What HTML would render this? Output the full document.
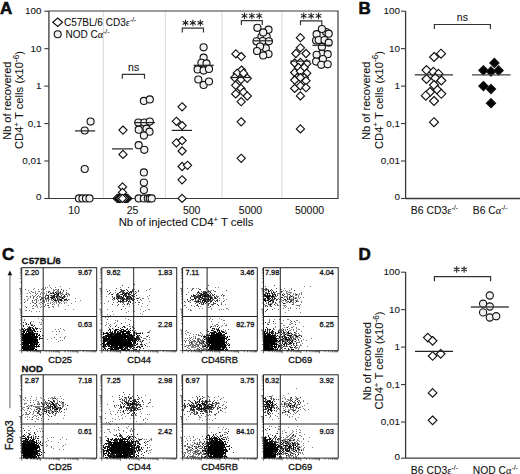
<!DOCTYPE html>
<html><head><meta charset="utf-8"><style>
html,body{margin:0;padding:0;background:#fff;}
#wrap{position:relative;width:520px;height:474px;overflow:hidden;background:#fff;}
svg{position:absolute;left:0;top:0;}
.h text{stroke:#111;stroke-width:0.3px;}
.m text{stroke:#111;stroke-width:0.08px;}
text{fill:#111;font-family:"Liberation Sans",sans-serif;}
</style></head><body><div id="wrap">
<svg width="520" height="474" viewBox="0 0 520 474" font-family="Liberation Sans, sans-serif">
<g shape-rendering="crispEdges"><path fill="rgb(178,178,178)" d=""/><path fill="rgb(128,128,128)" d="M49 285h1v1h-1zM60 286h1v1h-1zM304 286h1v1h-1zM310 286h1v1h-1zM45 287h1v1h-1zM47 287h1v1h-1zM50 287h1v1h-1zM55 287h1v1h-1zM120 287h1v1h-1zM215 287h1v1h-1zM218 287h1v1h-1zM34 288h1v1h-1zM42 288h1v1h-1zM45 288h1v1h-1zM51 288h1v1h-1zM69 288h1v1h-1zM133 288h1v1h-1zM150 288h1v1h-1zM187 288h1v1h-1zM192 288h1v1h-1zM196 288h1v1h-1zM198 288h1v1h-1zM265 288h1v1h-1zM284 288h1v1h-1zM291 288h1v1h-1zM25 289h1v1h-1zM33 289h1v1h-1zM38 289h1v1h-1zM41 289h1v1h-1zM43 289h2v1h-2zM53 289h1v1h-1zM55 289h2v1h-2zM106 289h1v1h-1zM134 289h1v1h-1zM149 289h1v1h-1zM268 289h1v1h-1zM280 289h2v1h-2zM291 289h1v1h-1zM28 290h1v1h-1zM53 290h2v1h-2zM57 290h2v1h-2zM66 290h1v1h-1zM146 290h1v1h-1zM211 290h1v1h-1zM213 290h1v1h-1zM283 290h1v1h-1zM285 290h1v1h-1zM289 290h1v1h-1zM35 291h1v1h-1zM38 291h2v1h-2zM46 291h1v1h-1zM48 291h1v1h-1zM53 291h1v1h-1zM56 291h3v1h-3zM63 291h1v1h-1zM133 291h1v1h-1zM214 291h1v1h-1zM264 291h1v1h-1zM273 291h1v1h-1zM282 291h1v1h-1zM286 291h2v1h-2zM29 292h1v1h-1zM32 292h2v1h-2zM35 292h1v1h-1zM41 292h1v1h-1zM50 292h1v1h-1zM52 292h1v1h-1zM56 292h4v1h-4zM62 292h1v1h-1zM66 292h1v1h-1zM115 292h1v1h-1zM188 292h1v1h-1zM199 292h1v1h-1zM202 292h1v1h-1zM275 292h1v1h-1zM281 292h1v1h-1zM286 292h1v1h-1zM288 292h4v1h-4zM301 292h1v1h-1zM27 293h1v1h-1zM30 293h1v1h-1zM35 293h1v1h-1zM37 293h1v1h-1zM40 293h1v1h-1zM42 293h1v1h-1zM44 293h1v1h-1zM46 293h1v1h-1zM52 293h1v1h-1zM54 293h1v1h-1zM57 293h1v1h-1zM59 293h4v1h-4zM66 293h3v1h-3zM113 293h1v1h-1zM277 293h3v1h-3zM283 293h1v1h-1zM286 293h2v1h-2zM290 293h1v1h-1zM293 293h1v1h-1zM295 293h1v1h-1zM299 293h1v1h-1zM301 293h1v1h-1zM36 294h1v1h-1zM40 294h1v1h-1zM46 294h1v1h-1zM49 294h1v1h-1zM56 294h1v1h-1zM60 294h1v1h-1zM62 294h2v1h-2zM65 294h1v1h-1zM68 294h2v1h-2zM108 294h1v1h-1zM277 294h1v1h-1zM280 294h1v1h-1zM287 294h2v1h-2zM293 294h1v1h-1zM295 294h1v1h-1zM297 294h1v1h-1zM299 294h1v1h-1zM301 294h1v1h-1zM32 295h1v1h-1zM35 295h1v1h-1zM38 295h1v1h-1zM45 295h1v1h-1zM50 295h1v1h-1zM52 295h1v1h-1zM56 295h1v1h-1zM67 295h1v1h-1zM69 295h1v1h-1zM128 295h1v1h-1zM149 295h1v1h-1zM216 295h1v1h-1zM224 295h1v1h-1zM282 295h1v1h-1zM287 295h1v1h-1zM292 295h1v1h-1zM295 295h2v1h-2zM298 295h1v1h-1zM26 296h2v1h-2zM33 296h2v1h-2zM39 296h2v1h-2zM51 296h1v1h-1zM55 296h1v1h-1zM58 296h1v1h-1zM60 296h2v1h-2zM65 296h1v1h-1zM67 296h1v1h-1zM106 296h1v1h-1zM147 296h1v1h-1zM217 296h2v1h-2zM223 296h1v1h-1zM275 296h1v1h-1zM284 296h4v1h-4zM289 296h2v1h-2zM292 296h2v1h-2zM298 296h1v1h-1zM30 297h1v1h-1zM36 297h1v1h-1zM39 297h1v1h-1zM41 297h2v1h-2zM44 297h2v1h-2zM47 297h1v1h-1zM57 297h3v1h-3zM61 297h1v1h-1zM63 297h1v1h-1zM112 297h1v1h-1zM116 297h1v1h-1zM284 297h1v1h-1zM286 297h2v1h-2zM290 297h1v1h-1zM295 297h2v1h-2zM298 297h1v1h-1zM300 297h1v1h-1zM303 297h1v1h-1zM28 298h1v1h-1zM33 298h1v1h-1zM37 298h1v1h-1zM46 298h1v1h-1zM53 298h3v1h-3zM58 298h2v1h-2zM61 298h1v1h-1zM66 298h1v1h-1zM75 298h1v1h-1zM142 298h2v1h-2zM148 298h1v1h-1zM223 298h1v1h-1zM278 298h1v1h-1zM280 298h1v1h-1zM283 298h1v1h-1zM291 298h1v1h-1zM293 298h2v1h-2zM296 298h1v1h-1zM299 298h1v1h-1zM24 299h1v1h-1zM27 299h1v1h-1zM35 299h1v1h-1zM41 299h1v1h-1zM43 299h1v1h-1zM45 299h2v1h-2zM48 299h2v1h-2zM51 299h1v1h-1zM54 299h1v1h-1zM58 299h1v1h-1zM68 299h2v1h-2zM120 299h1v1h-1zM226 299h1v1h-1zM267 299h1v1h-1zM279 299h3v1h-3zM288 299h1v1h-1zM290 299h3v1h-3zM297 299h1v1h-1zM27 300h1v1h-1zM34 300h1v1h-1zM36 300h1v1h-1zM38 300h1v1h-1zM40 300h1v1h-1zM42 300h1v1h-1zM44 300h1v1h-1zM46 300h1v1h-1zM51 300h2v1h-2zM57 300h1v1h-1zM59 300h1v1h-1zM62 300h1v1h-1zM65 300h2v1h-2zM80 300h1v1h-1zM113 300h1v1h-1zM141 300h1v1h-1zM187 300h1v1h-1zM192 300h1v1h-1zM214 300h1v1h-1zM224 300h1v1h-1zM280 300h1v1h-1zM282 300h1v1h-1zM285 300h1v1h-1zM290 300h1v1h-1zM292 300h2v1h-2zM295 300h3v1h-3zM25 301h1v1h-1zM32 301h1v1h-1zM42 301h3v1h-3zM46 301h1v1h-1zM48 301h1v1h-1zM53 301h1v1h-1zM55 301h2v1h-2zM61 301h1v1h-1zM63 301h1v1h-1zM75 301h1v1h-1zM125 301h1v1h-1zM149 301h1v1h-1zM189 301h1v1h-1zM268 301h1v1h-1zM279 301h1v1h-1zM281 301h1v1h-1zM285 301h1v1h-1zM287 301h1v1h-1zM293 301h1v1h-1zM297 301h2v1h-2zM301 301h1v1h-1zM32 302h2v1h-2zM40 302h2v1h-2zM44 302h1v1h-1zM50 302h1v1h-1zM52 302h1v1h-1zM54 302h1v1h-1zM56 302h1v1h-1zM58 302h3v1h-3zM64 302h1v1h-1zM66 302h1v1h-1zM113 302h1v1h-1zM128 302h1v1h-1zM185 302h1v1h-1zM221 302h1v1h-1zM266 302h1v1h-1zM279 302h1v1h-1zM282 302h1v1h-1zM286 302h2v1h-2zM290 302h1v1h-1zM292 302h2v1h-2zM295 302h1v1h-1zM301 302h1v1h-1zM30 303h1v1h-1zM34 303h1v1h-1zM39 303h1v1h-1zM42 303h1v1h-1zM47 303h2v1h-2zM50 303h1v1h-1zM53 303h1v1h-1zM56 303h1v1h-1zM59 303h1v1h-1zM61 303h1v1h-1zM64 303h1v1h-1zM71 303h1v1h-1zM104 303h1v1h-1zM123 303h1v1h-1zM132 303h1v1h-1zM142 303h1v1h-1zM221 303h1v1h-1zM270 303h3v1h-3zM275 303h2v1h-2zM285 303h1v1h-1zM293 303h1v1h-1zM36 304h1v1h-1zM40 304h1v1h-1zM45 304h1v1h-1zM54 304h1v1h-1zM58 304h1v1h-1zM122 304h1v1h-1zM138 304h1v1h-1zM225 304h1v1h-1zM264 304h1v1h-1zM293 304h1v1h-1zM300 304h1v1h-1zM45 305h1v1h-1zM47 305h1v1h-1zM58 305h1v1h-1zM68 305h1v1h-1zM147 305h1v1h-1zM185 305h1v1h-1zM196 305h1v1h-1zM212 305h1v1h-1zM269 305h1v1h-1zM275 305h1v1h-1zM277 305h2v1h-2zM280 305h1v1h-1zM283 305h3v1h-3zM296 305h4v1h-4zM25 306h1v1h-1zM32 306h1v1h-1zM35 306h1v1h-1zM37 306h1v1h-1zM41 306h1v1h-1zM52 306h2v1h-2zM58 306h1v1h-1zM129 306h1v1h-1zM141 306h1v1h-1zM194 306h1v1h-1zM200 306h1v1h-1zM284 306h1v1h-1zM286 306h1v1h-1zM299 306h1v1h-1zM37 307h1v1h-1zM40 307h1v1h-1zM48 307h2v1h-2zM53 307h1v1h-1zM186 307h1v1h-1zM208 307h2v1h-2zM285 307h1v1h-1zM290 307h1v1h-1zM32 308h2v1h-2zM125 308h1v1h-1zM199 308h1v1h-1zM202 308h1v1h-1zM211 308h1v1h-1zM226 308h2v1h-2zM274 308h1v1h-1zM283 308h1v1h-1zM288 308h1v1h-1zM290 308h1v1h-1zM296 308h1v1h-1zM299 308h1v1h-1zM65 309h1v1h-1zM73 309h1v1h-1zM107 309h1v1h-1zM133 309h1v1h-1zM140 309h1v1h-1zM148 309h2v1h-2zM188 309h1v1h-1zM190 309h1v1h-1zM211 309h1v1h-1zM219 309h1v1h-1zM221 309h1v1h-1zM223 309h1v1h-1zM228 309h1v1h-1zM278 309h1v1h-1zM25 310h2v1h-2zM29 310h1v1h-1zM145 310h1v1h-1zM190 310h2v1h-2zM288 310h1v1h-1zM31 311h1v1h-1zM36 311h1v1h-1zM39 311h1v1h-1zM112 311h1v1h-1zM128 311h1v1h-1zM134 311h1v1h-1zM143 311h1v1h-1zM126 312h1v1h-1zM285 312h1v1h-1zM300 312h1v1h-1zM140 313h1v1h-1zM107 314h1v1h-1zM113 314h1v1h-1zM142 314h1v1h-1zM110 315h1v1h-1zM126 316h1v1h-1zM140 316h1v1h-1zM105 317h1v1h-1zM108 317h1v1h-1zM38 318h1v1h-1zM125 318h1v1h-1zM210 318h1v1h-1zM219 318h1v1h-1zM24 319h1v1h-1zM41 319h1v1h-1zM128 319h1v1h-1zM209 319h1v1h-1zM212 319h1v1h-1zM221 319h1v1h-1zM269 319h1v1h-1zM274 319h1v1h-1zM279 319h1v1h-1zM287 319h2v1h-2zM24 320h1v1h-1zM42 320h1v1h-1zM115 320h1v1h-1zM117 320h1v1h-1zM130 320h1v1h-1zM223 320h2v1h-2zM269 320h1v1h-1zM283 320h1v1h-1zM290 320h1v1h-1zM296 320h2v1h-2zM31 321h1v1h-1zM33 321h1v1h-1zM117 321h1v1h-1zM133 321h1v1h-1zM211 321h1v1h-1zM269 321h1v1h-1zM25 322h1v1h-1zM39 322h1v1h-1zM41 322h1v1h-1zM106 322h1v1h-1zM115 322h1v1h-1zM125 322h1v1h-1zM218 322h1v1h-1zM268 322h2v1h-2zM290 322h1v1h-1zM295 322h1v1h-1zM299 322h1v1h-1zM108 323h1v1h-1zM114 323h1v1h-1zM224 323h1v1h-1zM267 323h1v1h-1zM273 323h1v1h-1zM275 323h1v1h-1zM281 323h2v1h-2zM291 323h2v1h-2zM25 324h1v1h-1zM30 324h3v1h-3zM40 324h2v1h-2zM106 324h1v1h-1zM110 324h1v1h-1zM212 324h1v1h-1zM216 324h1v1h-1zM226 324h1v1h-1zM267 324h1v1h-1zM289 324h2v1h-2zM105 325h1v1h-1zM109 325h1v1h-1zM127 325h1v1h-1zM214 325h2v1h-2zM218 325h1v1h-1zM222 325h1v1h-1zM225 325h2v1h-2zM283 325h2v1h-2zM27 326h1v1h-1zM129 326h2v1h-2zM132 326h1v1h-1zM210 326h1v1h-1zM213 326h1v1h-1zM215 326h1v1h-1zM221 326h1v1h-1zM275 326h1v1h-1zM280 326h1v1h-1zM288 326h1v1h-1zM293 326h1v1h-1zM303 326h1v1h-1zM31 327h1v1h-1zM108 327h1v1h-1zM125 327h1v1h-1zM132 327h1v1h-1zM275 327h1v1h-1zM284 327h1v1h-1zM286 327h1v1h-1zM291 327h2v1h-2zM296 327h1v1h-1zM39 328h1v1h-1zM41 328h1v1h-1zM60 328h1v1h-1zM109 328h1v1h-1zM133 328h2v1h-2zM216 328h1v1h-1zM282 328h1v1h-1zM289 328h1v1h-1zM296 328h1v1h-1zM40 329h1v1h-1zM55 329h1v1h-1zM58 329h1v1h-1zM63 329h1v1h-1zM113 329h1v1h-1zM129 329h1v1h-1zM212 329h1v1h-1zM223 329h1v1h-1zM228 329h1v1h-1zM268 329h1v1h-1zM273 329h2v1h-2zM279 329h3v1h-3zM285 329h1v1h-1zM291 329h1v1h-1zM293 329h1v1h-1zM298 329h2v1h-2zM64 330h1v1h-1zM135 330h1v1h-1zM150 330h1v1h-1zM186 330h1v1h-1zM206 330h1v1h-1zM225 330h1v1h-1zM278 330h2v1h-2zM281 330h1v1h-1zM283 330h1v1h-1zM285 330h1v1h-1zM289 330h2v1h-2zM293 330h1v1h-1zM296 330h1v1h-1zM52 331h1v1h-1zM56 331h1v1h-1zM149 331h1v1h-1zM185 331h1v1h-1zM213 331h1v1h-1zM225 331h1v1h-1zM281 331h1v1h-1zM286 331h1v1h-1zM296 331h1v1h-1zM301 331h1v1h-1zM135 332h2v1h-2zM140 332h1v1h-1zM142 332h1v1h-1zM147 332h1v1h-1zM149 332h1v1h-1zM187 332h2v1h-2zM226 332h1v1h-1zM273 332h1v1h-1zM285 332h1v1h-1zM290 332h1v1h-1zM295 332h1v1h-1zM135 333h1v1h-1zM185 333h1v1h-1zM190 333h1v1h-1zM201 333h1v1h-1zM276 333h1v1h-1zM278 333h1v1h-1zM282 333h2v1h-2zM286 333h2v1h-2zM290 333h1v1h-1zM295 333h2v1h-2zM298 333h1v1h-1zM56 334h1v1h-1zM186 334h1v1h-1zM193 334h1v1h-1zM198 334h1v1h-1zM202 334h1v1h-1zM206 334h1v1h-1zM208 334h2v1h-2zM222 334h1v1h-1zM274 334h1v1h-1zM280 334h1v1h-1zM283 334h2v1h-2zM286 334h3v1h-3zM291 334h1v1h-1zM295 334h1v1h-1zM299 334h1v1h-1zM138 335h1v1h-1zM148 335h1v1h-1zM189 335h1v1h-1zM199 335h2v1h-2zM202 335h1v1h-1zM204 335h1v1h-1zM283 335h1v1h-1zM293 335h2v1h-2zM298 335h1v1h-1zM300 335h2v1h-2zM65 336h1v1h-1zM140 336h1v1h-1zM146 336h1v1h-1zM193 336h1v1h-1zM195 336h1v1h-1zM206 336h1v1h-1zM275 336h1v1h-1zM278 336h1v1h-1zM281 336h1v1h-1zM283 336h1v1h-1zM289 336h1v1h-1zM291 336h3v1h-3zM295 336h1v1h-1zM298 336h1v1h-1zM60 337h1v1h-1zM64 337h1v1h-1zM139 337h1v1h-1zM149 337h1v1h-1zM189 337h1v1h-1zM191 337h1v1h-1zM195 337h1v1h-1zM203 337h1v1h-1zM205 337h1v1h-1zM281 337h1v1h-1zM287 337h1v1h-1zM291 337h3v1h-3zM295 337h3v1h-3zM299 337h1v1h-1zM51 338h1v1h-1zM64 338h1v1h-1zM143 338h3v1h-3zM185 338h1v1h-1zM190 338h1v1h-1zM193 338h1v1h-1zM197 338h3v1h-3zM205 338h1v1h-1zM278 338h2v1h-2zM282 338h1v1h-1zM284 338h1v1h-1zM288 338h1v1h-1zM290 338h1v1h-1zM294 338h2v1h-2zM297 338h1v1h-1zM300 338h1v1h-1zM311 338h1v1h-1zM47 339h1v1h-1zM56 339h1v1h-1zM140 339h1v1h-1zM146 339h1v1h-1zM149 339h1v1h-1zM189 339h1v1h-1zM192 339h1v1h-1zM197 339h1v1h-1zM199 339h2v1h-2zM202 339h1v1h-1zM205 339h1v1h-1zM278 339h1v1h-1zM283 339h2v1h-2zM290 339h5v1h-5zM303 339h1v1h-1zM60 340h1v1h-1zM62 340h1v1h-1zM140 340h1v1h-1zM142 340h1v1h-1zM184 340h1v1h-1zM186 340h1v1h-1zM188 340h1v1h-1zM193 340h1v1h-1zM198 340h1v1h-1zM201 340h1v1h-1zM203 340h1v1h-1zM281 340h1v1h-1zM283 340h2v1h-2zM286 340h1v1h-1zM289 340h1v1h-1zM291 340h1v1h-1zM293 340h1v1h-1zM296 340h1v1h-1zM298 340h1v1h-1zM301 340h1v1h-1zM306 340h1v1h-1zM58 341h1v1h-1zM139 341h1v1h-1zM189 341h1v1h-1zM191 341h4v1h-4zM197 341h1v1h-1zM199 341h1v1h-1zM202 341h1v1h-1zM206 341h1v1h-1zM277 341h1v1h-1zM280 341h1v1h-1zM284 341h3v1h-3zM294 341h1v1h-1zM299 341h1v1h-1zM301 341h1v1h-1zM149 342h1v1h-1zM185 342h1v1h-1zM189 342h2v1h-2zM192 342h1v1h-1zM194 342h1v1h-1zM196 342h2v1h-2zM200 342h2v1h-2zM205 342h1v1h-1zM275 342h4v1h-4zM284 342h1v1h-1zM286 342h1v1h-1zM289 342h1v1h-1zM291 342h1v1h-1zM296 342h4v1h-4zM141 343h1v1h-1zM146 343h1v1h-1zM192 343h1v1h-1zM195 343h2v1h-2zM199 343h1v1h-1zM202 343h1v1h-1zM204 343h1v1h-1zM208 343h1v1h-1zM287 343h1v1h-1zM294 343h1v1h-1zM302 343h1v1h-1zM142 344h1v1h-1zM184 344h1v1h-1zM190 344h4v1h-4zM195 344h1v1h-1zM197 344h3v1h-3zM201 344h2v1h-2zM205 344h1v1h-1zM278 344h1v1h-1zM281 344h1v1h-1zM287 344h1v1h-1zM289 344h2v1h-2zM296 344h1v1h-1zM300 344h1v1h-1zM141 345h2v1h-2zM186 345h3v1h-3zM190 345h1v1h-1zM193 345h1v1h-1zM195 345h1v1h-1zM197 345h1v1h-1zM200 345h1v1h-1zM203 345h2v1h-2zM206 345h1v1h-1zM280 345h1v1h-1zM282 345h1v1h-1zM293 345h2v1h-2zM297 345h1v1h-1zM300 345h2v1h-2zM147 346h1v1h-1zM149 346h1v1h-1zM184 346h1v1h-1zM188 346h1v1h-1zM191 346h3v1h-3zM195 346h3v1h-3zM209 346h1v1h-1zM281 346h1v1h-1zM284 346h2v1h-2zM287 346h1v1h-1zM290 346h1v1h-1zM299 346h1v1h-1zM307 346h1v1h-1zM191 347h5v1h-5zM202 347h2v1h-2zM281 347h1v1h-1zM295 347h3v1h-3zM299 347h1v1h-1zM140 348h1v1h-1zM188 348h2v1h-2zM198 348h1v1h-1zM200 348h2v1h-2zM203 348h3v1h-3zM291 348h1v1h-1zM295 348h2v1h-2zM298 348h1v1h-1zM186 349h1v1h-1zM190 349h1v1h-1zM194 349h1v1h-1zM196 349h3v1h-3zM201 349h2v1h-2zM204 349h2v1h-2zM279 349h2v1h-2zM282 349h1v1h-1zM289 349h1v1h-1zM298 349h1v1h-1zM184 350h1v1h-1zM199 350h1v1h-1zM203 350h1v1h-1zM208 350h1v1h-1zM278 350h2v1h-2zM281 350h1v1h-1zM286 350h1v1h-1zM297 350h2v1h-2zM296 388h1v1h-1zM43 393h1v1h-1zM288 393h1v1h-1zM145 395h1v1h-1zM207 395h1v1h-1zM272 395h1v1h-1zM283 395h1v1h-1zM31 396h1v1h-1zM43 396h1v1h-1zM54 396h1v1h-1zM60 396h1v1h-1zM112 396h1v1h-1zM218 396h1v1h-1zM267 396h1v1h-1zM271 396h1v1h-1zM280 396h1v1h-1zM295 396h1v1h-1zM25 397h1v1h-1zM36 397h1v1h-1zM40 397h1v1h-1zM51 397h2v1h-2zM54 397h1v1h-1zM126 397h1v1h-1zM131 397h1v1h-1zM192 397h1v1h-1zM203 397h2v1h-2zM209 397h1v1h-1zM214 397h1v1h-1zM223 397h1v1h-1zM284 397h1v1h-1zM290 397h1v1h-1zM296 397h1v1h-1zM25 398h1v1h-1zM30 398h1v1h-1zM41 398h1v1h-1zM48 398h1v1h-1zM50 398h1v1h-1zM52 398h1v1h-1zM54 398h1v1h-1zM57 398h1v1h-1zM61 398h1v1h-1zM121 398h1v1h-1zM126 398h1v1h-1zM221 398h1v1h-1zM282 398h1v1h-1zM285 398h1v1h-1zM290 398h2v1h-2zM295 398h4v1h-4zM23 399h1v1h-1zM36 399h1v1h-1zM44 399h1v1h-1zM52 399h1v1h-1zM56 399h1v1h-1zM63 399h1v1h-1zM150 399h1v1h-1zM285 399h1v1h-1zM287 399h2v1h-2zM292 399h1v1h-1zM296 399h1v1h-1zM24 400h1v1h-1zM27 400h1v1h-1zM30 400h1v1h-1zM33 400h1v1h-1zM35 400h1v1h-1zM44 400h1v1h-1zM49 400h1v1h-1zM54 400h1v1h-1zM57 400h1v1h-1zM123 400h1v1h-1zM126 400h1v1h-1zM150 400h1v1h-1zM188 400h1v1h-1zM217 400h1v1h-1zM288 400h3v1h-3zM298 400h2v1h-2zM303 400h1v1h-1zM37 401h2v1h-2zM51 401h1v1h-1zM57 401h1v1h-1zM61 401h1v1h-1zM204 401h1v1h-1zM224 401h1v1h-1zM283 401h1v1h-1zM286 401h2v1h-2zM290 401h1v1h-1zM294 401h1v1h-1zM299 401h1v1h-1zM303 401h1v1h-1zM33 402h1v1h-1zM38 402h1v1h-1zM44 402h4v1h-4zM49 402h1v1h-1zM54 402h1v1h-1zM57 402h1v1h-1zM60 402h1v1h-1zM150 402h1v1h-1zM226 402h1v1h-1zM284 402h2v1h-2zM294 402h2v1h-2zM24 403h3v1h-3zM37 403h3v1h-3zM41 403h1v1h-1zM44 403h5v1h-5zM50 403h1v1h-1zM55 403h1v1h-1zM61 403h3v1h-3zM214 403h1v1h-1zM219 403h1v1h-1zM273 403h1v1h-1zM276 403h1v1h-1zM281 403h1v1h-1zM285 403h5v1h-5zM291 403h1v1h-1zM298 403h1v1h-1zM300 403h1v1h-1zM307 403h1v1h-1zM24 404h1v1h-1zM37 404h2v1h-2zM42 404h1v1h-1zM44 404h1v1h-1zM48 404h1v1h-1zM50 404h1v1h-1zM55 404h2v1h-2zM62 404h2v1h-2zM65 404h1v1h-1zM107 404h1v1h-1zM129 404h1v1h-1zM281 404h2v1h-2zM285 404h2v1h-2zM289 404h1v1h-1zM291 404h1v1h-1zM295 404h1v1h-1zM297 404h2v1h-2zM28 405h1v1h-1zM30 405h1v1h-1zM32 405h1v1h-1zM43 405h2v1h-2zM48 405h1v1h-1zM55 405h1v1h-1zM60 405h1v1h-1zM62 405h2v1h-2zM135 405h1v1h-1zM218 405h1v1h-1zM274 405h1v1h-1zM276 405h1v1h-1zM284 405h1v1h-1zM286 405h2v1h-2zM289 405h1v1h-1zM291 405h1v1h-1zM296 405h2v1h-2zM304 405h1v1h-1zM26 406h2v1h-2zM29 406h1v1h-1zM31 406h1v1h-1zM33 406h10v1h-10zM46 406h2v1h-2zM49 406h1v1h-1zM56 406h2v1h-2zM62 406h2v1h-2zM146 406h2v1h-2zM152 406h1v1h-1zM191 406h1v1h-1zM225 406h1v1h-1zM277 406h1v1h-1zM282 406h3v1h-3zM286 406h2v1h-2zM292 406h2v1h-2zM296 406h1v1h-1zM302 406h1v1h-1zM23 407h2v1h-2zM28 407h1v1h-1zM35 407h1v1h-1zM37 407h3v1h-3zM43 407h2v1h-2zM46 407h3v1h-3zM53 407h1v1h-1zM56 407h2v1h-2zM59 407h1v1h-1zM62 407h1v1h-1zM115 407h1v1h-1zM125 407h1v1h-1zM277 407h1v1h-1zM285 407h1v1h-1zM287 407h1v1h-1zM291 407h1v1h-1zM293 407h1v1h-1zM295 407h1v1h-1zM297 407h1v1h-1zM300 407h1v1h-1zM22 408h1v1h-1zM27 408h1v1h-1zM30 408h1v1h-1zM37 408h1v1h-1zM40 408h1v1h-1zM46 408h2v1h-2zM49 408h2v1h-2zM54 408h2v1h-2zM58 408h2v1h-2zM66 408h1v1h-1zM224 408h2v1h-2zM276 408h1v1h-1zM283 408h1v1h-1zM290 408h1v1h-1zM293 408h1v1h-1zM296 408h1v1h-1zM303 408h1v1h-1zM23 409h1v1h-1zM31 409h1v1h-1zM34 409h1v1h-1zM37 409h1v1h-1zM39 409h1v1h-1zM44 409h1v1h-1zM46 409h1v1h-1zM52 409h1v1h-1zM60 409h1v1h-1zM66 409h1v1h-1zM109 409h1v1h-1zM209 409h1v1h-1zM220 409h1v1h-1zM277 409h1v1h-1zM279 409h1v1h-1zM285 409h1v1h-1zM288 409h1v1h-1zM290 409h4v1h-4zM295 409h1v1h-1zM300 409h1v1h-1zM304 409h1v1h-1zM308 409h1v1h-1zM24 410h1v1h-1zM27 410h1v1h-1zM34 410h1v1h-1zM39 410h1v1h-1zM42 410h1v1h-1zM44 410h1v1h-1zM47 410h1v1h-1zM49 410h3v1h-3zM54 410h3v1h-3zM135 410h1v1h-1zM191 410h1v1h-1zM221 410h1v1h-1zM272 410h1v1h-1zM276 410h1v1h-1zM280 410h1v1h-1zM283 410h1v1h-1zM288 410h2v1h-2zM292 410h1v1h-1zM295 410h1v1h-1zM298 410h1v1h-1zM305 410h1v1h-1zM29 411h1v1h-1zM33 411h1v1h-1zM35 411h2v1h-2zM48 411h2v1h-2zM51 411h1v1h-1zM53 411h2v1h-2zM56 411h1v1h-1zM59 411h1v1h-1zM110 411h1v1h-1zM113 411h1v1h-1zM122 411h1v1h-1zM140 411h1v1h-1zM222 411h1v1h-1zM276 411h1v1h-1zM286 411h2v1h-2zM293 411h1v1h-1zM25 412h2v1h-2zM30 412h1v1h-1zM33 412h1v1h-1zM41 412h1v1h-1zM49 412h1v1h-1zM51 412h2v1h-2zM56 412h1v1h-1zM58 412h1v1h-1zM60 412h1v1h-1zM64 412h1v1h-1zM225 412h1v1h-1zM283 412h3v1h-3zM289 412h1v1h-1zM294 412h1v1h-1zM296 412h1v1h-1zM26 413h1v1h-1zM33 413h1v1h-1zM39 413h1v1h-1zM42 413h1v1h-1zM45 413h1v1h-1zM50 413h1v1h-1zM56 413h1v1h-1zM105 413h1v1h-1zM110 413h1v1h-1zM136 413h1v1h-1zM141 413h1v1h-1zM190 413h1v1h-1zM193 413h1v1h-1zM282 413h1v1h-1zM290 413h1v1h-1zM295 413h1v1h-1zM23 414h1v1h-1zM25 414h3v1h-3zM32 414h1v1h-1zM40 414h2v1h-2zM53 414h1v1h-1zM55 414h1v1h-1zM111 414h1v1h-1zM115 414h1v1h-1zM122 414h1v1h-1zM147 414h1v1h-1zM149 414h1v1h-1zM196 414h1v1h-1zM206 414h1v1h-1zM285 414h1v1h-1zM287 414h1v1h-1zM293 414h1v1h-1zM299 414h1v1h-1zM22 415h1v1h-1zM34 415h2v1h-2zM37 415h1v1h-1zM54 415h2v1h-2zM64 415h1v1h-1zM121 415h1v1h-1zM135 415h2v1h-2zM207 415h2v1h-2zM210 415h1v1h-1zM215 415h1v1h-1zM266 415h1v1h-1zM270 415h1v1h-1zM275 415h1v1h-1zM287 415h1v1h-1zM27 416h1v1h-1zM33 416h1v1h-1zM36 416h1v1h-1zM42 416h1v1h-1zM49 416h1v1h-1zM118 416h1v1h-1zM125 416h1v1h-1zM133 416h1v1h-1zM140 416h1v1h-1zM188 416h1v1h-1zM199 416h1v1h-1zM205 416h1v1h-1zM277 416h1v1h-1zM289 416h1v1h-1zM292 416h1v1h-1zM25 417h1v1h-1zM29 417h1v1h-1zM38 417h1v1h-1zM199 417h2v1h-2zM269 417h1v1h-1zM289 417h1v1h-1zM298 417h1v1h-1zM36 418h1v1h-1zM63 418h1v1h-1zM105 418h1v1h-1zM112 418h1v1h-1zM130 418h1v1h-1zM134 418h1v1h-1zM145 418h1v1h-1zM215 418h1v1h-1zM278 418h1v1h-1zM295 418h1v1h-1zM27 419h1v1h-1zM31 419h1v1h-1zM37 419h2v1h-2zM115 419h1v1h-1zM119 419h1v1h-1zM143 419h1v1h-1zM147 419h1v1h-1zM186 419h1v1h-1zM199 419h1v1h-1zM206 419h1v1h-1zM209 419h1v1h-1zM272 419h1v1h-1zM295 419h1v1h-1zM41 420h1v1h-1zM143 420h1v1h-1zM202 420h1v1h-1zM212 420h1v1h-1zM296 420h1v1h-1zM35 421h1v1h-1zM110 421h1v1h-1zM112 421h1v1h-1zM136 421h1v1h-1zM106 422h1v1h-1zM108 422h1v1h-1zM145 422h1v1h-1zM57 423h1v1h-1zM109 423h1v1h-1zM126 423h1v1h-1zM110 424h1v1h-1zM116 424h1v1h-1zM129 424h1v1h-1zM140 424h1v1h-1zM28 426h1v1h-1zM34 426h1v1h-1zM128 426h1v1h-1zM269 426h1v1h-1zM271 426h1v1h-1zM278 426h2v1h-2zM297 426h1v1h-1zM126 427h1v1h-1zM209 427h1v1h-1zM218 427h1v1h-1zM223 427h1v1h-1zM275 427h1v1h-1zM288 427h1v1h-1zM30 428h1v1h-1zM39 428h1v1h-1zM41 428h1v1h-1zM127 428h1v1h-1zM131 428h1v1h-1zM226 428h1v1h-1zM267 428h1v1h-1zM278 428h1v1h-1zM36 429h1v1h-1zM107 429h3v1h-3zM114 429h1v1h-1zM118 429h1v1h-1zM131 429h1v1h-1zM134 429h1v1h-1zM222 429h1v1h-1zM225 429h1v1h-1zM228 429h1v1h-1zM278 429h2v1h-2zM296 429h1v1h-1zM299 429h1v1h-1zM28 430h2v1h-2zM116 430h1v1h-1zM119 430h1v1h-1zM123 430h1v1h-1zM130 430h1v1h-1zM132 430h1v1h-1zM266 430h1v1h-1zM284 430h1v1h-1zM292 430h1v1h-1zM300 430h1v1h-1zM37 431h1v1h-1zM40 431h1v1h-1zM42 431h1v1h-1zM109 431h1v1h-1zM123 431h1v1h-1zM130 431h1v1h-1zM132 431h1v1h-1zM277 431h1v1h-1zM282 431h1v1h-1zM293 431h1v1h-1zM296 431h1v1h-1zM26 432h1v1h-1zM30 432h1v1h-1zM104 432h1v1h-1zM110 432h1v1h-1zM126 432h1v1h-1zM211 432h1v1h-1zM220 432h1v1h-1zM224 432h3v1h-3zM285 432h2v1h-2zM292 432h1v1h-1zM299 432h2v1h-2zM29 433h1v1h-1zM216 433h1v1h-1zM267 433h1v1h-1zM276 433h1v1h-1zM282 433h1v1h-1zM291 433h1v1h-1zM296 433h1v1h-1zM113 434h1v1h-1zM208 434h1v1h-1zM222 434h1v1h-1zM224 434h2v1h-2zM270 434h1v1h-1zM290 434h1v1h-1zM304 434h1v1h-1zM25 435h1v1h-1zM28 435h2v1h-2zM33 435h1v1h-1zM115 435h2v1h-2zM128 435h1v1h-1zM216 435h1v1h-1zM280 435h1v1h-1zM286 435h1v1h-1zM289 435h1v1h-1zM295 435h1v1h-1zM299 435h2v1h-2zM33 436h1v1h-1zM36 436h1v1h-1zM42 436h1v1h-1zM105 436h2v1h-2zM119 436h1v1h-1zM121 436h2v1h-2zM131 436h1v1h-1zM134 436h1v1h-1zM184 436h1v1h-1zM189 436h1v1h-1zM193 436h1v1h-1zM202 436h1v1h-1zM227 436h1v1h-1zM274 436h1v1h-1zM279 436h1v1h-1zM287 436h2v1h-2zM291 436h2v1h-2zM294 436h1v1h-1zM301 436h1v1h-1zM29 437h1v1h-1zM35 437h1v1h-1zM41 437h1v1h-1zM51 437h1v1h-1zM53 437h1v1h-1zM62 437h1v1h-1zM130 437h1v1h-1zM193 437h1v1h-1zM224 437h1v1h-1zM227 437h1v1h-1zM281 437h1v1h-1zM283 437h1v1h-1zM286 437h2v1h-2zM290 437h2v1h-2zM293 437h1v1h-1zM309 437h1v1h-1zM47 438h1v1h-1zM136 438h1v1h-1zM138 438h1v1h-1zM142 438h1v1h-1zM151 438h1v1h-1zM186 438h1v1h-1zM190 438h1v1h-1zM197 438h1v1h-1zM226 438h1v1h-1zM228 438h1v1h-1zM271 438h1v1h-1zM279 438h2v1h-2zM285 438h1v1h-1zM289 438h4v1h-4zM298 438h1v1h-1zM303 438h1v1h-1zM60 439h1v1h-1zM66 439h1v1h-1zM138 439h1v1h-1zM144 439h1v1h-1zM146 439h1v1h-1zM150 439h2v1h-2zM195 439h1v1h-1zM203 439h1v1h-1zM278 439h3v1h-3zM283 439h5v1h-5zM289 439h2v1h-2zM293 439h1v1h-1zM297 439h1v1h-1zM303 439h1v1h-1zM48 440h1v1h-1zM137 440h1v1h-1zM149 440h1v1h-1zM151 440h1v1h-1zM187 440h1v1h-1zM190 440h1v1h-1zM193 440h2v1h-2zM199 440h1v1h-1zM210 440h1v1h-1zM275 440h1v1h-1zM278 440h1v1h-1zM280 440h2v1h-2zM283 440h3v1h-3zM287 440h1v1h-1zM291 440h2v1h-2zM294 440h1v1h-1zM297 440h2v1h-2zM46 441h1v1h-1zM51 441h1v1h-1zM145 441h1v1h-1zM148 441h1v1h-1zM185 441h1v1h-1zM200 441h1v1h-1zM206 441h1v1h-1zM274 441h1v1h-1zM276 441h1v1h-1zM278 441h1v1h-1zM282 441h3v1h-3zM287 441h4v1h-4zM296 441h1v1h-1zM299 441h1v1h-1zM301 441h1v1h-1zM308 441h1v1h-1zM45 442h1v1h-1zM58 442h1v1h-1zM137 442h1v1h-1zM146 442h1v1h-1zM192 442h1v1h-1zM194 442h1v1h-1zM197 442h1v1h-1zM200 442h2v1h-2zM204 442h1v1h-1zM225 442h1v1h-1zM278 442h1v1h-1zM280 442h1v1h-1zM284 442h3v1h-3zM288 442h2v1h-2zM291 442h1v1h-1zM295 442h1v1h-1zM297 442h1v1h-1zM145 443h1v1h-1zM195 443h1v1h-1zM199 443h1v1h-1zM205 443h1v1h-1zM279 443h1v1h-1zM283 443h1v1h-1zM287 443h1v1h-1zM289 443h1v1h-1zM295 443h2v1h-2zM298 443h1v1h-1zM303 443h1v1h-1zM46 444h1v1h-1zM65 444h1v1h-1zM190 444h1v1h-1zM193 444h1v1h-1zM198 444h1v1h-1zM204 444h2v1h-2zM276 444h1v1h-1zM278 444h1v1h-1zM280 444h1v1h-1zM282 444h2v1h-2zM286 444h2v1h-2zM289 444h4v1h-4zM294 444h1v1h-1zM297 444h1v1h-1zM299 444h1v1h-1zM47 445h1v1h-1zM63 445h1v1h-1zM150 445h1v1h-1zM184 445h1v1h-1zM191 445h1v1h-1zM198 445h1v1h-1zM200 445h1v1h-1zM280 445h1v1h-1zM294 445h1v1h-1zM303 445h1v1h-1zM46 446h1v1h-1zM51 446h1v1h-1zM62 446h1v1h-1zM136 446h1v1h-1zM184 446h2v1h-2zM187 446h3v1h-3zM192 446h1v1h-1zM195 446h1v1h-1zM200 446h2v1h-2zM282 446h2v1h-2zM286 446h2v1h-2zM297 446h3v1h-3zM301 446h1v1h-1zM51 447h1v1h-1zM135 447h1v1h-1zM143 447h1v1h-1zM149 447h1v1h-1zM190 447h2v1h-2zM195 447h4v1h-4zM279 447h2v1h-2zM282 447h1v1h-1zM284 447h1v1h-1zM286 447h1v1h-1zM291 447h1v1h-1zM294 447h1v1h-1zM297 447h2v1h-2zM300 447h1v1h-1zM304 447h1v1h-1zM312 447h1v1h-1zM53 448h1v1h-1zM139 448h1v1h-1zM147 448h1v1h-1zM187 448h1v1h-1zM189 448h1v1h-1zM195 448h1v1h-1zM199 448h1v1h-1zM203 448h1v1h-1zM207 448h1v1h-1zM284 448h1v1h-1zM286 448h1v1h-1zM290 448h1v1h-1zM292 448h1v1h-1zM303 448h1v1h-1zM59 449h1v1h-1zM63 449h1v1h-1zM151 449h1v1h-1zM187 449h1v1h-1zM190 449h2v1h-2zM193 449h1v1h-1zM202 449h1v1h-1zM204 449h1v1h-1zM281 449h2v1h-2zM291 449h2v1h-2zM294 449h2v1h-2zM297 449h1v1h-1zM301 449h1v1h-1zM303 449h1v1h-1zM135 450h2v1h-2zM140 450h1v1h-1zM146 450h2v1h-2zM149 450h2v1h-2zM187 450h2v1h-2zM190 450h3v1h-3zM195 450h5v1h-5zM206 450h1v1h-1zM283 450h1v1h-1zM291 450h3v1h-3zM298 450h2v1h-2zM303 450h1v1h-1zM139 451h1v1h-1zM187 451h2v1h-2zM190 451h1v1h-1zM193 451h2v1h-2zM196 451h1v1h-1zM200 451h1v1h-1zM203 451h2v1h-2zM284 451h1v1h-1zM289 451h2v1h-2zM298 451h1v1h-1zM150 452h1v1h-1zM184 452h1v1h-1zM187 452h1v1h-1zM190 452h1v1h-1zM192 452h1v1h-1zM194 452h1v1h-1zM196 452h2v1h-2zM201 452h1v1h-1zM203 452h1v1h-1zM283 452h1v1h-1zM285 452h1v1h-1zM289 452h2v1h-2zM295 452h1v1h-1zM297 452h4v1h-4zM302 452h1v1h-1zM142 453h1v1h-1zM148 453h1v1h-1zM183 453h1v1h-1zM185 453h1v1h-1zM188 453h2v1h-2zM194 453h2v1h-2zM200 453h2v1h-2zM203 453h1v1h-1zM278 453h1v1h-1zM283 453h2v1h-2zM290 453h2v1h-2zM293 453h2v1h-2zM298 453h1v1h-1zM300 453h1v1h-1zM302 453h1v1h-1zM184 454h1v1h-1zM190 454h1v1h-1zM193 454h1v1h-1zM195 454h1v1h-1zM199 454h1v1h-1zM203 454h1v1h-1zM278 454h1v1h-1zM281 454h3v1h-3zM285 454h1v1h-1zM293 454h1v1h-1zM303 454h1v1h-1zM188 455h1v1h-1zM192 455h2v1h-2zM198 455h1v1h-1zM207 455h1v1h-1zM277 455h1v1h-1zM287 455h5v1h-5zM295 455h1v1h-1zM297 455h1v1h-1zM183 456h2v1h-2zM189 456h2v1h-2zM193 456h3v1h-3zM197 456h1v1h-1zM202 456h1v1h-1zM204 456h1v1h-1zM281 456h1v1h-1zM286 456h1v1h-1zM288 456h2v1h-2zM291 456h1v1h-1zM293 456h1v1h-1zM295 456h2v1h-2zM186 457h2v1h-2zM190 457h1v1h-1zM192 457h5v1h-5zM199 457h1v1h-1zM202 457h2v1h-2zM289 457h2v1h-2zM295 457h2v1h-2zM298 457h1v1h-1zM304 457h1v1h-1zM191 458h1v1h-1zM193 458h1v1h-1zM204 458h1v1h-1zM266 458h1v1h-1zM271 458h1v1h-1zM273 458h1v1h-1zM295 458h2v1h-2z"/><path fill="rgb(77,77,77)" d="M134 284h1v1h-1zM122 285h1v1h-1zM208 285h1v1h-1zM274 285h1v1h-1zM265 286h1v1h-1zM128 287h1v1h-1zM116 288h1v1h-1zM193 288h1v1h-1zM206 288h1v1h-1zM276 288h1v1h-1zM120 289h2v1h-2zM126 289h1v1h-1zM132 289h1v1h-1zM192 289h1v1h-1zM199 289h2v1h-2zM264 289h4v1h-4zM271 289h1v1h-1zM109 290h1v1h-1zM115 290h1v1h-1zM121 290h3v1h-3zM132 290h1v1h-1zM138 290h1v1h-1zM191 290h1v1h-1zM208 290h1v1h-1zM226 290h1v1h-1zM265 290h2v1h-2zM272 290h1v1h-1zM31 291h1v1h-1zM120 291h1v1h-1zM122 291h1v1h-1zM128 291h1v1h-1zM131 291h1v1h-1zM135 291h1v1h-1zM138 291h1v1h-1zM201 291h1v1h-1zM203 291h3v1h-3zM208 291h3v1h-3zM215 291h1v1h-1zM269 291h1v1h-1zM271 291h1v1h-1zM110 292h1v1h-1zM120 292h1v1h-1zM122 292h3v1h-3zM126 292h1v1h-1zM130 292h1v1h-1zM136 292h1v1h-1zM197 292h1v1h-1zM203 292h1v1h-1zM208 292h1v1h-1zM265 292h2v1h-2zM268 292h1v1h-1zM271 292h1v1h-1zM274 292h1v1h-1zM117 293h2v1h-2zM122 293h1v1h-1zM124 293h1v1h-1zM127 293h1v1h-1zM129 293h1v1h-1zM131 293h1v1h-1zM135 293h1v1h-1zM197 293h1v1h-1zM200 293h1v1h-1zM206 293h1v1h-1zM209 293h1v1h-1zM211 293h1v1h-1zM265 293h2v1h-2zM268 293h1v1h-1zM271 293h1v1h-1zM274 293h1v1h-1zM111 294h1v1h-1zM116 294h1v1h-1zM118 294h1v1h-1zM120 294h1v1h-1zM126 294h1v1h-1zM129 294h1v1h-1zM133 294h2v1h-2zM186 294h1v1h-1zM193 294h1v1h-1zM196 294h1v1h-1zM198 294h1v1h-1zM200 294h1v1h-1zM204 294h1v1h-1zM210 294h1v1h-1zM212 294h1v1h-1zM222 294h1v1h-1zM265 294h1v1h-1zM269 294h1v1h-1zM272 294h2v1h-2zM46 295h1v1h-1zM116 295h3v1h-3zM124 295h1v1h-1zM129 295h1v1h-1zM131 295h1v1h-1zM136 295h1v1h-1zM191 295h1v1h-1zM195 295h1v1h-1zM197 295h2v1h-2zM202 295h2v1h-2zM206 295h1v1h-1zM209 295h1v1h-1zM212 295h1v1h-1zM221 295h1v1h-1zM223 295h1v1h-1zM266 295h1v1h-1zM268 295h1v1h-1zM273 295h1v1h-1zM277 295h1v1h-1zM30 296h1v1h-1zM37 296h1v1h-1zM45 296h1v1h-1zM112 296h1v1h-1zM116 296h1v1h-1zM120 296h1v1h-1zM126 296h1v1h-1zM132 296h1v1h-1zM134 296h1v1h-1zM191 296h5v1h-5zM198 296h1v1h-1zM210 296h2v1h-2zM216 296h1v1h-1zM264 296h1v1h-1zM270 296h1v1h-1zM274 296h1v1h-1zM276 296h1v1h-1zM33 297h1v1h-1zM117 297h1v1h-1zM119 297h2v1h-2zM123 297h1v1h-1zM126 297h1v1h-1zM129 297h1v1h-1zM133 297h1v1h-1zM139 297h1v1h-1zM190 297h1v1h-1zM195 297h2v1h-2zM199 297h1v1h-1zM202 297h1v1h-1zM204 297h2v1h-2zM207 297h3v1h-3zM212 297h1v1h-1zM214 297h1v1h-1zM217 297h1v1h-1zM266 297h1v1h-1zM269 297h1v1h-1zM271 297h4v1h-4zM41 298h1v1h-1zM114 298h1v1h-1zM117 298h1v1h-1zM119 298h1v1h-1zM121 298h1v1h-1zM128 298h1v1h-1zM130 298h1v1h-1zM132 298h2v1h-2zM136 298h1v1h-1zM138 298h1v1h-1zM190 298h1v1h-1zM196 298h1v1h-1zM198 298h1v1h-1zM201 298h1v1h-1zM204 298h1v1h-1zM206 298h1v1h-1zM212 298h1v1h-1zM214 298h1v1h-1zM216 298h1v1h-1zM219 298h1v1h-1zM264 298h1v1h-1zM269 298h1v1h-1zM36 299h1v1h-1zM112 299h1v1h-1zM114 299h1v1h-1zM121 299h1v1h-1zM124 299h7v1h-7zM132 299h1v1h-1zM134 299h1v1h-1zM140 299h1v1h-1zM187 299h1v1h-1zM191 299h2v1h-2zM195 299h1v1h-1zM198 299h2v1h-2zM201 299h1v1h-1zM205 299h1v1h-1zM209 299h1v1h-1zM212 299h2v1h-2zM217 299h1v1h-1zM265 299h1v1h-1zM271 299h4v1h-4zM277 299h1v1h-1zM32 300h1v1h-1zM48 300h1v1h-1zM58 300h1v1h-1zM118 300h1v1h-1zM120 300h1v1h-1zM129 300h1v1h-1zM133 300h1v1h-1zM137 300h1v1h-1zM195 300h1v1h-1zM197 300h1v1h-1zM200 300h1v1h-1zM208 300h1v1h-1zM210 300h3v1h-3zM216 300h1v1h-1zM219 300h1v1h-1zM266 300h1v1h-1zM272 300h2v1h-2zM276 300h1v1h-1zM283 300h1v1h-1zM36 301h1v1h-1zM108 301h1v1h-1zM119 301h1v1h-1zM122 301h3v1h-3zM129 301h2v1h-2zM184 301h1v1h-1zM194 301h1v1h-1zM197 301h1v1h-1zM199 301h2v1h-2zM206 301h2v1h-2zM217 301h1v1h-1zM223 301h1v1h-1zM272 301h1v1h-1zM24 302h1v1h-1zM36 302h1v1h-1zM117 302h1v1h-1zM120 302h1v1h-1zM122 302h2v1h-2zM135 302h1v1h-1zM138 302h2v1h-2zM190 302h1v1h-1zM196 302h3v1h-3zM200 302h5v1h-5zM210 302h1v1h-1zM213 302h1v1h-1zM272 302h2v1h-2zM275 302h1v1h-1zM35 303h1v1h-1zM127 303h2v1h-2zM195 303h1v1h-1zM201 303h1v1h-1zM205 303h1v1h-1zM208 303h2v1h-2zM213 303h3v1h-3zM266 303h1v1h-1zM268 303h1v1h-1zM52 304h1v1h-1zM112 304h1v1h-1zM118 304h1v1h-1zM124 304h1v1h-1zM129 304h1v1h-1zM197 304h1v1h-1zM201 304h3v1h-3zM208 304h1v1h-1zM211 304h3v1h-3zM217 304h1v1h-1zM221 304h1v1h-1zM268 304h2v1h-2zM271 304h1v1h-1zM277 304h1v1h-1zM33 305h1v1h-1zM36 305h1v1h-1zM117 305h1v1h-1zM184 305h1v1h-1zM191 305h1v1h-1zM208 305h1v1h-1zM265 305h2v1h-2zM270 305h1v1h-1zM44 306h1v1h-1zM123 306h1v1h-1zM133 306h1v1h-1zM198 306h1v1h-1zM265 306h1v1h-1zM270 306h2v1h-2zM26 307h1v1h-1zM121 309h1v1h-1zM272 309h1v1h-1zM266 310h1v1h-1zM265 311h1v1h-1zM111 316h1v1h-1zM107 319h1v1h-1zM291 321h1v1h-1zM294 321h1v1h-1zM116 325h1v1h-1zM282 330h1v1h-1zM59 331h1v1h-1zM200 332h1v1h-1zM196 334h1v1h-1zM198 335h1v1h-1zM54 337h1v1h-1zM187 338h1v1h-1zM203 338h1v1h-1zM198 339h1v1h-1zM190 340h1v1h-1zM194 340h1v1h-1zM197 340h1v1h-1zM200 340h1v1h-1zM202 340h1v1h-1zM185 341h1v1h-1zM195 341h1v1h-1zM198 341h1v1h-1zM201 341h1v1h-1zM202 342h2v1h-2zM189 343h1v1h-1zM191 343h1v1h-1zM200 343h1v1h-1zM144 344h1v1h-1zM196 344h1v1h-1zM204 344h1v1h-1zM189 345h1v1h-1zM192 345h1v1h-1zM194 345h1v1h-1zM198 345h1v1h-1zM202 345h1v1h-1zM185 346h1v1h-1zM198 346h1v1h-1zM187 347h1v1h-1zM199 347h1v1h-1zM197 348h1v1h-1zM284 348h1v1h-1zM203 349h1v1h-1zM194 350h1v1h-1zM201 350h1v1h-1zM123 392h1v1h-1zM124 394h1v1h-1zM129 394h1v1h-1zM119 395h1v1h-1zM137 395h1v1h-1zM122 396h1v1h-1zM128 396h1v1h-1zM132 396h1v1h-1zM196 396h1v1h-1zM199 396h1v1h-1zM202 396h1v1h-1zM208 396h1v1h-1zM269 396h2v1h-2zM119 397h1v1h-1zM124 397h2v1h-2zM130 397h1v1h-1zM141 397h1v1h-1zM197 397h1v1h-1zM265 397h1v1h-1zM271 397h1v1h-1zM125 398h1v1h-1zM129 398h1v1h-1zM131 398h1v1h-1zM139 398h1v1h-1zM197 398h1v1h-1zM200 398h1v1h-1zM265 398h1v1h-1zM270 398h2v1h-2zM273 398h1v1h-1zM119 399h2v1h-2zM122 399h1v1h-1zM124 399h1v1h-1zM126 399h1v1h-1zM129 399h1v1h-1zM135 399h1v1h-1zM138 399h1v1h-1zM197 399h1v1h-1zM199 399h2v1h-2zM209 399h1v1h-1zM220 399h1v1h-1zM265 399h2v1h-2zM271 399h1v1h-1zM273 399h2v1h-2zM276 399h1v1h-1zM278 399h1v1h-1zM122 400h1v1h-1zM124 400h1v1h-1zM128 400h2v1h-2zM132 400h1v1h-1zM134 400h2v1h-2zM142 400h1v1h-1zM184 400h2v1h-2zM189 400h1v1h-1zM194 400h1v1h-1zM202 400h1v1h-1zM205 400h2v1h-2zM209 400h1v1h-1zM214 400h1v1h-1zM265 400h1v1h-1zM267 400h2v1h-2zM270 400h1v1h-1zM273 400h1v1h-1zM113 401h1v1h-1zM120 401h1v1h-1zM124 401h1v1h-1zM126 401h1v1h-1zM136 401h1v1h-1zM142 401h1v1h-1zM190 401h1v1h-1zM197 401h2v1h-2zM201 401h3v1h-3zM207 401h4v1h-4zM213 401h1v1h-1zM265 401h2v1h-2zM274 401h1v1h-1zM30 402h1v1h-1zM121 402h2v1h-2zM125 402h1v1h-1zM128 402h1v1h-1zM133 402h2v1h-2zM136 402h2v1h-2zM139 402h1v1h-1zM143 402h1v1h-1zM149 402h1v1h-1zM191 402h2v1h-2zM196 402h1v1h-1zM204 402h2v1h-2zM207 402h1v1h-1zM218 402h1v1h-1zM265 402h1v1h-1zM270 402h1v1h-1zM42 403h1v1h-1zM129 403h1v1h-1zM131 403h1v1h-1zM135 403h2v1h-2zM138 403h1v1h-1zM148 403h1v1h-1zM192 403h2v1h-2zM195 403h2v1h-2zM198 403h1v1h-1zM201 403h1v1h-1zM209 403h1v1h-1zM212 403h2v1h-2zM216 403h3v1h-3zM267 403h1v1h-1zM34 404h1v1h-1zM39 404h1v1h-1zM120 404h1v1h-1zM123 404h1v1h-1zM125 404h1v1h-1zM127 404h1v1h-1zM139 404h2v1h-2zM143 404h1v1h-1zM184 404h1v1h-1zM187 404h1v1h-1zM189 404h1v1h-1zM191 404h1v1h-1zM193 404h1v1h-1zM196 404h2v1h-2zM206 404h1v1h-1zM208 404h2v1h-2zM212 404h1v1h-1zM215 404h2v1h-2zM223 404h1v1h-1zM264 404h1v1h-1zM266 404h1v1h-1zM274 404h1v1h-1zM31 405h1v1h-1zM114 405h1v1h-1zM116 405h1v1h-1zM118 405h1v1h-1zM120 405h1v1h-1zM124 405h1v1h-1zM129 405h1v1h-1zM132 405h1v1h-1zM137 405h1v1h-1zM139 405h2v1h-2zM183 405h2v1h-2zM191 405h1v1h-1zM193 405h1v1h-1zM196 405h1v1h-1zM201 405h1v1h-1zM203 405h2v1h-2zM211 405h1v1h-1zM213 405h1v1h-1zM215 405h1v1h-1zM222 405h1v1h-1zM264 405h1v1h-1zM266 405h3v1h-3zM270 405h2v1h-2zM273 405h1v1h-1zM114 406h1v1h-1zM120 406h1v1h-1zM124 406h1v1h-1zM131 406h1v1h-1zM133 406h2v1h-2zM136 406h1v1h-1zM140 406h2v1h-2zM184 406h1v1h-1zM192 406h2v1h-2zM195 406h1v1h-1zM197 406h1v1h-1zM205 406h1v1h-1zM208 406h1v1h-1zM211 406h2v1h-2zM218 406h1v1h-1zM264 406h1v1h-1zM268 406h1v1h-1zM272 406h2v1h-2zM280 406h1v1h-1zM36 407h1v1h-1zM120 407h1v1h-1zM126 407h1v1h-1zM128 407h1v1h-1zM130 407h1v1h-1zM134 407h3v1h-3zM138 407h2v1h-2zM184 407h2v1h-2zM192 407h1v1h-1zM197 407h1v1h-1zM203 407h1v1h-1zM205 407h1v1h-1zM208 407h1v1h-1zM210 407h1v1h-1zM212 407h3v1h-3zM217 407h1v1h-1zM220 407h1v1h-1zM226 407h1v1h-1zM268 407h1v1h-1zM272 407h3v1h-3zM276 407h1v1h-1zM38 408h1v1h-1zM119 408h1v1h-1zM121 408h1v1h-1zM127 408h1v1h-1zM129 408h5v1h-5zM136 408h1v1h-1zM142 408h1v1h-1zM184 408h1v1h-1zM190 408h1v1h-1zM196 408h2v1h-2zM200 408h1v1h-1zM204 408h1v1h-1zM209 408h3v1h-3zM217 408h2v1h-2zM222 408h1v1h-1zM265 408h4v1h-4zM126 409h1v1h-1zM128 409h1v1h-1zM130 409h1v1h-1zM133 409h1v1h-1zM135 409h1v1h-1zM137 409h4v1h-4zM183 409h1v1h-1zM190 409h1v1h-1zM194 409h1v1h-1zM196 409h1v1h-1zM198 409h2v1h-2zM202 409h2v1h-2zM205 409h1v1h-1zM208 409h1v1h-1zM210 409h1v1h-1zM212 409h1v1h-1zM217 409h1v1h-1zM264 409h1v1h-1zM266 409h1v1h-1zM271 409h1v1h-1zM38 410h1v1h-1zM118 410h1v1h-1zM120 410h1v1h-1zM123 410h1v1h-1zM129 410h2v1h-2zM133 410h2v1h-2zM183 410h1v1h-1zM190 410h1v1h-1zM193 410h2v1h-2zM198 410h2v1h-2zM201 410h1v1h-1zM203 410h2v1h-2zM209 410h1v1h-1zM220 410h1v1h-1zM267 410h1v1h-1zM274 410h1v1h-1zM130 411h2v1h-2zM133 411h1v1h-1zM189 411h1v1h-1zM193 411h2v1h-2zM196 411h1v1h-1zM202 411h1v1h-1zM204 411h3v1h-3zM210 411h2v1h-2zM218 411h1v1h-1zM265 411h1v1h-1zM267 411h2v1h-2zM37 412h2v1h-2zM117 412h1v1h-1zM120 412h1v1h-1zM123 412h1v1h-1zM129 412h1v1h-1zM191 412h2v1h-2zM194 412h1v1h-1zM196 412h1v1h-1zM205 412h3v1h-3zM209 412h1v1h-1zM211 412h1v1h-1zM218 412h1v1h-1zM264 412h2v1h-2zM267 412h1v1h-1zM29 413h1v1h-1zM37 413h2v1h-2zM124 413h1v1h-1zM127 413h2v1h-2zM132 413h1v1h-1zM134 413h1v1h-1zM194 413h1v1h-1zM196 413h1v1h-1zM200 413h1v1h-1zM202 413h1v1h-1zM216 413h1v1h-1zM267 413h1v1h-1zM270 413h1v1h-1zM272 413h1v1h-1zM278 413h1v1h-1zM28 414h1v1h-1zM43 414h1v1h-1zM47 414h1v1h-1zM131 414h1v1h-1zM133 414h1v1h-1zM135 414h1v1h-1zM184 414h1v1h-1zM190 414h1v1h-1zM194 414h2v1h-2zM209 414h1v1h-1zM214 414h2v1h-2zM268 414h2v1h-2zM48 415h1v1h-1zM131 415h3v1h-3zM198 415h1v1h-1zM201 415h1v1h-1zM265 415h1v1h-1zM270 416h1v1h-1zM32 417h1v1h-1zM41 418h1v1h-1zM122 418h1v1h-1zM32 419h1v1h-1zM48 419h1v1h-1zM23 428h1v1h-1zM275 435h1v1h-1zM221 436h1v1h-1zM295 436h1v1h-1zM222 438h1v1h-1zM199 439h1v1h-1zM147 441h1v1h-1zM199 442h1v1h-1zM138 443h1v1h-1zM187 443h1v1h-1zM194 443h1v1h-1zM197 443h1v1h-1zM147 444h1v1h-1zM187 444h1v1h-1zM196 444h2v1h-2zM199 444h1v1h-1zM185 445h1v1h-1zM192 445h1v1h-1zM203 445h1v1h-1zM196 446h1v1h-1zM199 446h1v1h-1zM202 446h1v1h-1zM188 447h2v1h-2zM200 448h2v1h-2zM197 449h1v1h-1zM189 450h1v1h-1zM197 451h2v1h-2zM185 452h1v1h-1zM195 452h1v1h-1zM200 452h1v1h-1zM193 453h1v1h-1zM197 453h2v1h-2zM196 454h1v1h-1zM198 454h1v1h-1zM204 454h2v1h-2zM184 455h1v1h-1zM201 455h1v1h-1zM209 455h1v1h-1zM187 456h1v1h-1zM191 456h2v1h-2zM201 456h1v1h-1zM206 456h1v1h-1zM198 457h1v1h-1zM205 457h1v1h-1z"/><path fill="rgb(38,38,38)" d="M266 288h1v1h-1zM58 289h1v1h-1zM61 289h1v1h-1zM63 290h1v1h-1zM124 290h1v1h-1zM127 290h1v1h-1zM294 290h1v1h-1zM49 291h1v1h-1zM60 291h1v1h-1zM107 291h1v1h-1zM121 291h1v1h-1zM123 291h1v1h-1zM130 291h1v1h-1zM132 291h1v1h-1zM198 291h1v1h-1zM276 291h1v1h-1zM281 291h1v1h-1zM48 292h1v1h-1zM53 292h1v1h-1zM60 292h1v1h-1zM127 292h1v1h-1zM129 292h1v1h-1zM198 292h1v1h-1zM204 292h2v1h-2zM50 293h2v1h-2zM109 293h1v1h-1zM199 293h1v1h-1zM203 293h1v1h-1zM205 293h1v1h-1zM54 294h2v1h-2zM58 294h1v1h-1zM66 294h1v1h-1zM112 294h1v1h-1zM117 294h1v1h-1zM121 294h1v1h-1zM125 294h1v1h-1zM130 294h1v1h-1zM201 294h1v1h-1zM203 294h1v1h-1zM205 294h4v1h-4zM214 294h1v1h-1zM274 294h2v1h-2zM282 294h1v1h-1zM284 294h1v1h-1zM289 294h1v1h-1zM296 294h1v1h-1zM47 295h2v1h-2zM51 295h1v1h-1zM53 295h1v1h-1zM57 295h2v1h-2zM61 295h1v1h-1zM64 295h1v1h-1zM119 295h1v1h-1zM125 295h2v1h-2zM132 295h2v1h-2zM193 295h1v1h-1zM199 295h1v1h-1zM201 295h1v1h-1zM207 295h1v1h-1zM210 295h1v1h-1zM213 295h1v1h-1zM264 295h1v1h-1zM283 295h1v1h-1zM290 295h1v1h-1zM48 296h1v1h-1zM52 296h3v1h-3zM56 296h2v1h-2zM59 296h1v1h-1zM63 296h2v1h-2zM118 296h2v1h-2zM121 296h1v1h-1zM123 296h1v1h-1zM128 296h3v1h-3zM133 296h1v1h-1zM196 296h2v1h-2zM199 296h1v1h-1zM203 296h1v1h-1zM208 296h2v1h-2zM214 296h1v1h-1zM48 297h1v1h-1zM50 297h4v1h-4zM60 297h1v1h-1zM64 297h1v1h-1zM114 297h1v1h-1zM121 297h1v1h-1zM127 297h2v1h-2zM131 297h1v1h-1zM194 297h1v1h-1zM197 297h2v1h-2zM201 297h1v1h-1zM210 297h2v1h-2zM215 297h1v1h-1zM281 297h2v1h-2zM293 297h1v1h-1zM42 298h1v1h-1zM45 298h1v1h-1zM47 298h2v1h-2zM52 298h1v1h-1zM57 298h1v1h-1zM63 298h1v1h-1zM113 298h1v1h-1zM116 298h1v1h-1zM120 298h1v1h-1zM123 298h2v1h-2zM129 298h1v1h-1zM137 298h1v1h-1zM194 298h2v1h-2zM203 298h1v1h-1zM205 298h1v1h-1zM211 298h1v1h-1zM215 298h1v1h-1zM275 298h1v1h-1zM287 298h1v1h-1zM289 298h1v1h-1zM295 298h1v1h-1zM40 299h1v1h-1zM53 299h1v1h-1zM55 299h1v1h-1zM57 299h1v1h-1zM59 299h1v1h-1zM61 299h1v1h-1zM64 299h2v1h-2zM117 299h1v1h-1zM122 299h1v1h-1zM131 299h1v1h-1zM133 299h1v1h-1zM200 299h1v1h-1zM203 299h1v1h-1zM276 299h1v1h-1zM284 299h2v1h-2zM287 299h1v1h-1zM289 299h1v1h-1zM293 299h1v1h-1zM54 300h1v1h-1zM56 300h1v1h-1zM60 300h1v1h-1zM64 300h1v1h-1zM67 300h1v1h-1zM126 300h2v1h-2zM132 300h1v1h-1zM190 300h1v1h-1zM198 300h1v1h-1zM204 300h1v1h-1zM209 300h1v1h-1zM217 300h1v1h-1zM268 300h1v1h-1zM286 300h1v1h-1zM291 300h1v1h-1zM121 301h1v1h-1zM126 301h1v1h-1zM188 301h1v1h-1zM195 301h2v1h-2zM210 301h1v1h-1zM215 301h1v1h-1zM273 301h1v1h-1zM288 301h1v1h-1zM290 301h2v1h-2zM289 302h1v1h-1zM283 303h2v1h-2zM127 304h1v1h-1zM274 304h1v1h-1zM292 304h1v1h-1zM48 305h1v1h-1zM197 305h1v1h-1zM218 305h1v1h-1zM210 306h1v1h-1zM267 306h1v1h-1zM273 321h1v1h-1zM23 322h1v1h-1zM30 322h1v1h-1zM265 322h1v1h-1zM26 323h1v1h-1zM30 323h1v1h-1zM121 323h1v1h-1zM26 324h1v1h-1zM28 324h1v1h-1zM129 324h1v1h-1zM217 324h1v1h-1zM268 324h1v1h-1zM295 324h1v1h-1zM23 325h1v1h-1zM31 325h2v1h-2zM34 325h1v1h-1zM23 326h1v1h-1zM29 326h1v1h-1zM33 326h1v1h-1zM110 326h1v1h-1zM115 326h1v1h-1zM123 326h2v1h-2zM211 326h1v1h-1zM217 326h1v1h-1zM28 327h2v1h-2zM32 327h1v1h-1zM35 327h1v1h-1zM118 327h1v1h-1zM122 327h1v1h-1zM124 327h1v1h-1zM133 327h1v1h-1zM210 327h1v1h-1zM219 327h1v1h-1zM266 327h1v1h-1zM287 327h1v1h-1zM22 328h1v1h-1zM24 328h1v1h-1zM27 328h2v1h-2zM32 328h1v1h-1zM35 328h2v1h-2zM112 328h1v1h-1zM120 328h1v1h-1zM127 328h1v1h-1zM130 328h1v1h-1zM212 328h3v1h-3zM218 328h1v1h-1zM267 328h1v1h-1zM273 328h1v1h-1zM25 329h4v1h-4zM31 329h1v1h-1zM33 329h2v1h-2zM36 329h1v1h-1zM110 329h1v1h-1zM118 329h1v1h-1zM121 329h2v1h-2zM126 329h2v1h-2zM207 329h1v1h-1zM214 329h1v1h-1zM216 329h2v1h-2zM267 329h1v1h-1zM269 329h1v1h-1zM283 329h1v1h-1zM287 329h1v1h-1zM23 330h2v1h-2zM29 330h1v1h-1zM31 330h2v1h-2zM108 330h1v1h-1zM110 330h1v1h-1zM114 330h1v1h-1zM119 330h1v1h-1zM121 330h1v1h-1zM124 330h1v1h-1zM128 330h1v1h-1zM132 330h1v1h-1zM212 330h2v1h-2zM218 330h1v1h-1zM221 330h1v1h-1zM265 330h1v1h-1zM267 330h1v1h-1zM269 330h1v1h-1zM22 331h1v1h-1zM26 331h1v1h-1zM29 331h3v1h-3zM40 331h1v1h-1zM110 331h1v1h-1zM112 331h1v1h-1zM114 331h1v1h-1zM118 331h1v1h-1zM120 331h2v1h-2zM126 331h2v1h-2zM134 331h1v1h-1zM207 331h2v1h-2zM215 331h1v1h-1zM217 331h1v1h-1zM221 331h3v1h-3zM264 331h1v1h-1zM267 331h1v1h-1zM269 331h1v1h-1zM271 331h3v1h-3zM283 331h1v1h-1zM31 332h1v1h-1zM33 332h1v1h-1zM103 332h1v1h-1zM106 332h2v1h-2zM109 332h4v1h-4zM118 332h2v1h-2zM121 332h1v1h-1zM129 332h2v1h-2zM133 332h2v1h-2zM148 332h1v1h-1zM211 332h3v1h-3zM216 332h1v1h-1zM222 332h3v1h-3zM266 332h2v1h-2zM270 332h3v1h-3zM279 332h1v1h-1zM281 332h1v1h-1zM283 332h2v1h-2zM287 332h2v1h-2zM294 332h1v1h-1zM26 333h1v1h-1zM33 333h1v1h-1zM35 333h3v1h-3zM103 333h3v1h-3zM108 333h1v1h-1zM110 333h1v1h-1zM113 333h3v1h-3zM134 333h1v1h-1zM136 333h4v1h-4zM142 333h1v1h-1zM209 333h1v1h-1zM219 333h1v1h-1zM226 333h1v1h-1zM264 333h1v1h-1zM267 333h3v1h-3zM272 333h2v1h-2zM275 333h1v1h-1zM277 333h1v1h-1zM284 333h1v1h-1zM291 333h1v1h-1zM24 334h1v1h-1zM37 334h1v1h-1zM39 334h1v1h-1zM107 334h1v1h-1zM114 334h1v1h-1zM121 334h1v1h-1zM127 334h2v1h-2zM130 334h1v1h-1zM134 334h1v1h-1zM212 334h1v1h-1zM223 334h1v1h-1zM272 334h1v1h-1zM275 334h1v1h-1zM281 334h1v1h-1zM292 334h1v1h-1zM294 334h1v1h-1zM22 335h1v1h-1zM31 335h1v1h-1zM42 335h1v1h-1zM105 335h1v1h-1zM108 335h2v1h-2zM112 335h2v1h-2zM123 335h1v1h-1zM128 335h1v1h-1zM132 335h2v1h-2zM139 335h1v1h-1zM206 335h1v1h-1zM208 335h1v1h-1zM223 335h2v1h-2zM266 335h1v1h-1zM271 335h1v1h-1zM275 335h1v1h-1zM280 335h1v1h-1zM290 335h2v1h-2zM296 335h1v1h-1zM299 335h1v1h-1zM22 336h1v1h-1zM40 336h1v1h-1zM104 336h2v1h-2zM129 336h2v1h-2zM133 336h1v1h-1zM136 336h3v1h-3zM147 336h1v1h-1zM201 336h1v1h-1zM203 336h1v1h-1zM208 336h1v1h-1zM221 336h5v1h-5zM229 336h1v1h-1zM272 336h1v1h-1zM274 336h1v1h-1zM279 336h1v1h-1zM284 336h2v1h-2zM290 336h1v1h-1zM301 336h1v1h-1zM37 337h1v1h-1zM39 337h1v1h-1zM102 337h1v1h-1zM104 337h2v1h-2zM109 337h1v1h-1zM131 337h1v1h-1zM134 337h1v1h-1zM136 337h1v1h-1zM138 337h1v1h-1zM141 337h1v1h-1zM204 337h1v1h-1zM206 337h1v1h-1zM226 337h1v1h-1zM282 337h1v1h-1zM284 337h3v1h-3zM22 338h1v1h-1zM34 338h1v1h-1zM36 338h1v1h-1zM39 338h4v1h-4zM105 338h1v1h-1zM110 338h1v1h-1zM134 338h1v1h-1zM136 338h4v1h-4zM195 338h1v1h-1zM207 338h1v1h-1zM226 338h1v1h-1zM267 338h1v1h-1zM276 338h2v1h-2zM289 338h1v1h-1zM291 338h1v1h-1zM293 338h1v1h-1zM22 339h1v1h-1zM39 339h1v1h-1zM109 339h1v1h-1zM133 339h1v1h-1zM136 339h4v1h-4zM204 339h1v1h-1zM206 339h1v1h-1zM223 339h1v1h-1zM226 339h1v1h-1zM229 339h1v1h-1zM275 339h1v1h-1zM280 339h3v1h-3zM285 339h1v1h-1zM288 339h1v1h-1zM298 339h1v1h-1zM105 340h1v1h-1zM107 340h2v1h-2zM127 340h1v1h-1zM135 340h1v1h-1zM138 340h1v1h-1zM143 340h1v1h-1zM224 340h1v1h-1zM227 340h1v1h-1zM280 340h1v1h-1zM282 340h1v1h-1zM285 340h1v1h-1zM287 340h2v1h-2zM290 340h1v1h-1zM106 341h2v1h-2zM133 341h2v1h-2zM140 341h1v1h-1zM204 341h1v1h-1zM278 341h1v1h-1zM289 341h1v1h-1zM292 341h1v1h-1zM295 341h1v1h-1zM36 342h1v1h-1zM141 342h1v1h-1zM191 342h1v1h-1zM207 342h1v1h-1zM224 342h1v1h-1zM226 342h1v1h-1zM282 342h1v1h-1zM288 342h1v1h-1zM290 342h1v1h-1zM22 343h1v1h-1zM33 343h1v1h-1zM35 343h1v1h-1zM37 343h1v1h-1zM102 343h1v1h-1zM104 343h1v1h-1zM106 343h1v1h-1zM134 343h2v1h-2zM201 343h1v1h-1zM203 343h1v1h-1zM226 343h1v1h-1zM228 343h1v1h-1zM275 343h1v1h-1zM279 343h2v1h-2zM282 343h1v1h-1zM284 343h3v1h-3zM291 343h1v1h-1zM293 343h1v1h-1zM296 343h1v1h-1zM37 344h1v1h-1zM104 344h1v1h-1zM106 344h1v1h-1zM109 344h1v1h-1zM132 344h1v1h-1zM134 344h1v1h-1zM136 344h2v1h-2zM141 344h1v1h-1zM207 344h1v1h-1zM227 344h1v1h-1zM229 344h1v1h-1zM269 344h1v1h-1zM277 344h1v1h-1zM286 344h1v1h-1zM288 344h1v1h-1zM293 344h1v1h-1zM104 345h1v1h-1zM107 345h3v1h-3zM131 345h1v1h-1zM134 345h2v1h-2zM145 345h1v1h-1zM207 345h1v1h-1zM209 345h1v1h-1zM223 345h1v1h-1zM226 345h1v1h-1zM229 345h1v1h-1zM276 345h1v1h-1zM278 345h1v1h-1zM281 345h1v1h-1zM284 345h1v1h-1zM286 345h1v1h-1zM291 345h1v1h-1zM296 345h1v1h-1zM35 346h1v1h-1zM102 346h1v1h-1zM104 346h2v1h-2zM112 346h3v1h-3zM123 346h1v1h-1zM125 346h2v1h-2zM130 346h2v1h-2zM137 346h2v1h-2zM141 346h1v1h-1zM202 346h2v1h-2zM205 346h1v1h-1zM207 346h2v1h-2zM270 346h1v1h-1zM272 346h1v1h-1zM279 346h1v1h-1zM283 346h1v1h-1zM286 346h1v1h-1zM289 346h1v1h-1zM295 346h1v1h-1zM31 347h1v1h-1zM33 347h2v1h-2zM36 347h1v1h-1zM103 347h2v1h-2zM110 347h1v1h-1zM112 347h1v1h-1zM123 347h1v1h-1zM129 347h3v1h-3zM133 347h2v1h-2zM137 347h1v1h-1zM139 347h2v1h-2zM221 347h1v1h-1zM226 347h1v1h-1zM229 347h1v1h-1zM270 347h1v1h-1zM276 347h1v1h-1zM280 347h1v1h-1zM282 347h1v1h-1zM291 347h2v1h-2zM294 347h1v1h-1zM29 348h1v1h-1zM105 348h1v1h-1zM109 348h3v1h-3zM118 348h2v1h-2zM122 348h1v1h-1zM125 348h3v1h-3zM130 348h1v1h-1zM132 348h1v1h-1zM143 348h1v1h-1zM220 348h1v1h-1zM224 348h1v1h-1zM226 348h1v1h-1zM275 348h1v1h-1zM277 348h1v1h-1zM281 348h1v1h-1zM285 348h1v1h-1zM288 348h1v1h-1zM103 349h1v1h-1zM105 349h1v1h-1zM110 349h1v1h-1zM114 349h1v1h-1zM116 349h2v1h-2zM129 349h1v1h-1zM134 349h2v1h-2zM139 349h1v1h-1zM199 349h1v1h-1zM206 349h1v1h-1zM210 349h2v1h-2zM213 349h1v1h-1zM225 349h3v1h-3zM274 349h3v1h-3zM288 349h1v1h-1zM291 349h2v1h-2zM22 350h1v1h-1zM24 350h1v1h-1zM38 350h1v1h-1zM40 350h1v1h-1zM110 350h2v1h-2zM113 350h1v1h-1zM116 350h1v1h-1zM122 350h1v1h-1zM125 350h3v1h-3zM131 350h1v1h-1zM133 350h1v1h-1zM139 350h1v1h-1zM202 350h1v1h-1zM221 350h1v1h-1zM224 350h1v1h-1zM226 350h2v1h-2zM277 350h1v1h-1zM287 350h1v1h-1zM133 397h1v1h-1zM138 397h1v1h-1zM291 397h1v1h-1zM300 397h1v1h-1zM53 398h1v1h-1zM55 398h1v1h-1zM130 398h1v1h-1zM202 398h1v1h-1zM134 399h1v1h-1zM137 399h1v1h-1zM290 399h1v1h-1zM297 399h1v1h-1zM48 400h1v1h-1zM53 400h1v1h-1zM291 400h1v1h-1zM295 400h1v1h-1zM45 401h1v1h-1zM50 401h1v1h-1zM53 401h2v1h-2zM59 401h1v1h-1zM125 401h1v1h-1zM128 401h1v1h-1zM131 401h1v1h-1zM133 401h1v1h-1zM195 401h1v1h-1zM199 401h1v1h-1zM205 401h1v1h-1zM272 401h1v1h-1zM282 401h1v1h-1zM292 401h1v1h-1zM297 401h1v1h-1zM41 402h1v1h-1zM62 402h2v1h-2zM126 402h2v1h-2zM195 402h1v1h-1zM197 402h1v1h-1zM199 402h1v1h-1zM202 402h1v1h-1zM206 402h1v1h-1zM212 402h1v1h-1zM215 402h2v1h-2zM289 402h1v1h-1zM293 402h1v1h-1zM298 402h1v1h-1zM300 402h1v1h-1zM49 403h1v1h-1zM56 403h2v1h-2zM122 403h1v1h-1zM126 403h1v1h-1zM128 403h1v1h-1zM132 403h1v1h-1zM184 403h1v1h-1zM188 403h1v1h-1zM204 403h1v1h-1zM206 403h1v1h-1zM43 404h1v1h-1zM51 404h2v1h-2zM54 404h1v1h-1zM58 404h1v1h-1zM134 404h5v1h-5zM200 404h1v1h-1zM202 404h2v1h-2zM210 404h2v1h-2zM284 404h1v1h-1zM288 404h1v1h-1zM294 404h1v1h-1zM299 404h1v1h-1zM56 405h1v1h-1zM67 405h1v1h-1zM130 405h1v1h-1zM133 405h1v1h-1zM185 405h1v1h-1zM189 405h2v1h-2zM194 405h1v1h-1zM197 405h1v1h-1zM208 405h1v1h-1zM288 405h1v1h-1zM292 405h3v1h-3zM43 406h1v1h-1zM48 406h1v1h-1zM50 406h2v1h-2zM121 406h1v1h-1zM123 406h1v1h-1zM129 406h1v1h-1zM132 406h1v1h-1zM185 406h1v1h-1zM187 406h1v1h-1zM194 406h1v1h-1zM199 406h3v1h-3zM215 406h1v1h-1zM45 407h1v1h-1zM49 407h2v1h-2zM52 407h1v1h-1zM54 407h1v1h-1zM58 407h1v1h-1zM123 407h1v1h-1zM127 407h1v1h-1zM129 407h1v1h-1zM131 407h2v1h-2zM191 407h1v1h-1zM194 407h2v1h-2zM198 407h2v1h-2zM201 407h1v1h-1zM206 407h1v1h-1zM219 407h1v1h-1zM290 407h1v1h-1zM292 407h1v1h-1zM296 407h1v1h-1zM299 407h1v1h-1zM28 408h1v1h-1zM39 408h1v1h-1zM44 408h1v1h-1zM52 408h2v1h-2zM60 408h2v1h-2zM126 408h1v1h-1zM134 408h2v1h-2zM191 408h1v1h-1zM193 408h1v1h-1zM199 408h1v1h-1zM202 408h1v1h-1zM207 408h2v1h-2zM213 408h1v1h-1zM298 408h1v1h-1zM36 409h1v1h-1zM40 409h1v1h-1zM42 409h2v1h-2zM45 409h1v1h-1zM50 409h1v1h-1zM54 409h2v1h-2zM57 409h1v1h-1zM59 409h1v1h-1zM64 409h1v1h-1zM131 409h1v1h-1zM191 409h3v1h-3zM197 409h1v1h-1zM204 409h1v1h-1zM211 409h1v1h-1zM46 410h1v1h-1zM48 410h1v1h-1zM59 410h1v1h-1zM125 410h1v1h-1zM127 410h1v1h-1zM131 410h2v1h-2zM136 410h1v1h-1zM192 410h1v1h-1zM205 410h1v1h-1zM284 410h1v1h-1zM293 410h2v1h-2zM38 411h2v1h-2zM44 411h3v1h-3zM55 411h1v1h-1zM61 411h1v1h-1zM187 411h1v1h-1zM200 411h1v1h-1zM209 411h1v1h-1zM288 411h1v1h-1zM297 411h1v1h-1zM48 412h1v1h-1zM53 412h1v1h-1zM197 412h1v1h-1zM282 412h1v1h-1zM288 412h1v1h-1zM43 413h1v1h-1zM49 413h1v1h-1zM52 413h1v1h-1zM55 413h1v1h-1zM197 413h1v1h-1zM203 413h1v1h-1zM39 414h1v1h-1zM40 415h1v1h-1zM51 416h1v1h-1zM118 427h1v1h-1zM265 429h1v1h-1zM269 429h1v1h-1zM24 430h1v1h-1zM228 431h1v1h-1zM34 432h1v1h-1zM219 432h1v1h-1zM28 433h1v1h-1zM34 433h1v1h-1zM119 433h1v1h-1zM227 433h1v1h-1zM277 433h1v1h-1zM24 434h1v1h-1zM29 434h2v1h-2zM35 434h1v1h-1zM116 434h1v1h-1zM120 434h1v1h-1zM131 434h1v1h-1zM137 434h1v1h-1zM213 434h1v1h-1zM215 434h1v1h-1zM293 434h1v1h-1zM23 435h1v1h-1zM114 435h1v1h-1zM119 435h3v1h-3zM207 435h3v1h-3zM213 435h1v1h-1zM220 435h1v1h-1zM268 435h1v1h-1zM272 435h1v1h-1zM292 435h2v1h-2zM22 436h3v1h-3zM27 436h2v1h-2zM31 436h1v1h-1zM35 436h1v1h-1zM117 436h1v1h-1zM120 436h1v1h-1zM127 436h1v1h-1zM129 436h2v1h-2zM206 436h1v1h-1zM209 436h1v1h-1zM212 436h1v1h-1zM214 436h1v1h-1zM217 436h1v1h-1zM220 436h1v1h-1zM265 436h1v1h-1zM268 436h1v1h-1zM275 436h1v1h-1zM25 437h1v1h-1zM27 437h1v1h-1zM30 437h2v1h-2zM33 437h1v1h-1zM121 437h2v1h-2zM126 437h1v1h-1zM128 437h1v1h-1zM133 437h1v1h-1zM135 437h1v1h-1zM206 437h2v1h-2zM213 437h4v1h-4zM223 437h1v1h-1zM225 437h1v1h-1zM264 437h1v1h-1zM266 437h1v1h-1zM269 437h1v1h-1zM274 437h1v1h-1zM276 437h1v1h-1zM22 438h1v1h-1zM25 438h1v1h-1zM35 438h1v1h-1zM37 438h2v1h-2zM107 438h2v1h-2zM112 438h1v1h-1zM115 438h1v1h-1zM118 438h1v1h-1zM122 438h1v1h-1zM124 438h1v1h-1zM128 438h1v1h-1zM131 438h1v1h-1zM205 438h1v1h-1zM209 438h1v1h-1zM211 438h1v1h-1zM213 438h1v1h-1zM217 438h1v1h-1zM269 438h1v1h-1zM273 438h1v1h-1zM275 438h1v1h-1zM30 439h1v1h-1zM33 439h2v1h-2zM112 439h1v1h-1zM116 439h4v1h-4zM121 439h1v1h-1zM124 439h1v1h-1zM127 439h2v1h-2zM130 439h1v1h-1zM132 439h1v1h-1zM139 439h3v1h-3zM206 439h6v1h-6zM215 439h4v1h-4zM222 439h2v1h-2zM226 439h1v1h-1zM264 439h1v1h-1zM266 439h2v1h-2zM272 439h1v1h-1zM275 439h1v1h-1zM288 439h1v1h-1zM294 439h1v1h-1zM23 440h2v1h-2zM26 440h1v1h-1zM30 440h1v1h-1zM33 440h1v1h-1zM38 440h1v1h-1zM107 440h2v1h-2zM111 440h1v1h-1zM115 440h1v1h-1zM117 440h1v1h-1zM129 440h1v1h-1zM136 440h1v1h-1zM139 440h1v1h-1zM209 440h1v1h-1zM214 440h1v1h-1zM219 440h1v1h-1zM228 440h1v1h-1zM269 440h1v1h-1zM272 440h1v1h-1zM290 440h1v1h-1zM293 440h1v1h-1zM23 441h1v1h-1zM26 441h1v1h-1zM29 441h3v1h-3zM36 441h1v1h-1zM40 441h1v1h-1zM107 441h2v1h-2zM114 441h4v1h-4zM125 441h1v1h-1zM128 441h2v1h-2zM131 441h1v1h-1zM133 441h2v1h-2zM136 441h3v1h-3zM204 441h1v1h-1zM207 441h1v1h-1zM209 441h1v1h-1zM212 441h1v1h-1zM214 441h1v1h-1zM217 441h1v1h-1zM220 441h3v1h-3zM225 441h1v1h-1zM264 441h1v1h-1zM267 441h1v1h-1zM269 441h1v1h-1zM272 441h1v1h-1zM275 441h1v1h-1zM280 441h1v1h-1zM286 441h1v1h-1zM24 442h1v1h-1zM26 442h1v1h-1zM30 442h1v1h-1zM32 442h2v1h-2zM38 442h1v1h-1zM40 442h1v1h-1zM108 442h1v1h-1zM112 442h1v1h-1zM122 442h1v1h-1zM127 442h1v1h-1zM130 442h2v1h-2zM135 442h1v1h-1zM138 442h1v1h-1zM206 442h1v1h-1zM209 442h1v1h-1zM227 442h1v1h-1zM266 442h1v1h-1zM271 442h2v1h-2zM275 442h3v1h-3zM281 442h1v1h-1zM283 442h1v1h-1zM292 442h1v1h-1zM294 442h1v1h-1zM26 443h1v1h-1zM37 443h1v1h-1zM39 443h1v1h-1zM42 443h1v1h-1zM106 443h1v1h-1zM108 443h3v1h-3zM130 443h2v1h-2zM137 443h1v1h-1zM139 443h1v1h-1zM202 443h2v1h-2zM206 443h1v1h-1zM208 443h2v1h-2zM212 443h1v1h-1zM225 443h1v1h-1zM264 443h1v1h-1zM273 443h1v1h-1zM275 443h1v1h-1zM280 443h1v1h-1zM286 443h1v1h-1zM288 443h1v1h-1zM290 443h1v1h-1zM293 443h2v1h-2zM297 443h1v1h-1zM22 444h1v1h-1zM38 444h1v1h-1zM40 444h1v1h-1zM104 444h1v1h-1zM106 444h1v1h-1zM108 444h2v1h-2zM111 444h1v1h-1zM134 444h1v1h-1zM140 444h1v1h-1zM202 444h1v1h-1zM207 444h1v1h-1zM210 444h1v1h-1zM224 444h3v1h-3zM281 444h1v1h-1zM288 444h1v1h-1zM293 444h1v1h-1zM295 444h1v1h-1zM41 445h2v1h-2zM103 445h1v1h-1zM108 445h2v1h-2zM133 445h1v1h-1zM137 445h2v1h-2zM229 445h1v1h-1zM274 445h1v1h-1zM276 445h1v1h-1zM278 445h2v1h-2zM283 445h2v1h-2zM290 445h1v1h-1zM292 445h1v1h-1zM297 445h1v1h-1zM22 446h1v1h-1zM36 446h1v1h-1zM39 446h1v1h-1zM103 446h1v1h-1zM105 446h3v1h-3zM132 446h1v1h-1zM134 446h1v1h-1zM137 446h2v1h-2zM194 446h1v1h-1zM198 446h1v1h-1zM204 446h2v1h-2zM223 446h1v1h-1zM226 446h4v1h-4zM267 446h1v1h-1zM279 446h1v1h-1zM285 446h1v1h-1zM288 446h1v1h-1zM290 446h2v1h-2zM22 447h1v1h-1zM39 447h1v1h-1zM104 447h2v1h-2zM107 447h1v1h-1zM109 447h2v1h-2zM137 447h1v1h-1zM139 447h1v1h-1zM147 447h1v1h-1zM202 447h1v1h-1zM204 447h1v1h-1zM206 447h1v1h-1zM225 447h1v1h-1zM231 447h1v1h-1zM273 447h1v1h-1zM277 447h2v1h-2zM285 447h1v1h-1zM288 447h1v1h-1zM290 447h1v1h-1zM299 447h1v1h-1zM39 448h1v1h-1zM105 448h1v1h-1zM109 448h1v1h-1zM132 448h1v1h-1zM135 448h1v1h-1zM141 448h1v1h-1zM196 448h1v1h-1zM204 448h2v1h-2zM223 448h1v1h-1zM229 448h1v1h-1zM275 448h1v1h-1zM281 448h3v1h-3zM285 448h1v1h-1zM288 448h2v1h-2zM295 448h1v1h-1zM298 448h1v1h-1zM39 449h2v1h-2zM102 449h2v1h-2zM110 449h1v1h-1zM134 449h1v1h-1zM136 449h1v1h-1zM138 449h3v1h-3zM142 449h1v1h-1zM186 449h1v1h-1zM205 449h1v1h-1zM229 449h1v1h-1zM286 449h2v1h-2zM293 449h1v1h-1zM298 449h2v1h-2zM34 450h1v1h-1zM37 450h3v1h-3zM43 450h1v1h-1zM103 450h3v1h-3zM108 450h1v1h-1zM134 450h1v1h-1zM137 450h3v1h-3zM202 450h1v1h-1zM204 450h1v1h-1zM225 450h3v1h-3zM273 450h1v1h-1zM279 450h2v1h-2zM286 450h3v1h-3zM295 450h1v1h-1zM35 451h1v1h-1zM37 451h1v1h-1zM39 451h2v1h-2zM104 451h1v1h-1zM106 451h2v1h-2zM129 451h2v1h-2zM133 451h1v1h-1zM141 451h1v1h-1zM146 451h1v1h-1zM195 451h1v1h-1zM202 451h1v1h-1zM207 451h1v1h-1zM227 451h1v1h-1zM276 451h2v1h-2zM281 451h1v1h-1zM283 451h1v1h-1zM286 451h1v1h-1zM293 451h2v1h-2zM296 451h1v1h-1zM44 452h1v1h-1zM109 452h1v1h-1zM134 452h2v1h-2zM138 452h1v1h-1zM144 452h1v1h-1zM207 452h1v1h-1zM209 452h1v1h-1zM225 452h1v1h-1zM233 452h1v1h-1zM273 452h4v1h-4zM278 452h1v1h-1zM280 452h1v1h-1zM291 452h1v1h-1zM37 453h3v1h-3zM104 453h1v1h-1zM110 453h2v1h-2zM114 453h1v1h-1zM118 453h1v1h-1zM128 453h1v1h-1zM130 453h1v1h-1zM133 453h2v1h-2zM138 453h1v1h-1zM199 453h1v1h-1zM204 453h1v1h-1zM206 453h1v1h-1zM222 453h1v1h-1zM274 453h1v1h-1zM281 453h1v1h-1zM285 453h3v1h-3zM37 454h1v1h-1zM39 454h1v1h-1zM41 454h1v1h-1zM103 454h2v1h-2zM107 454h2v1h-2zM110 454h2v1h-2zM113 454h2v1h-2zM128 454h1v1h-1zM130 454h1v1h-1zM134 454h1v1h-1zM136 454h1v1h-1zM141 454h1v1h-1zM202 454h1v1h-1zM207 454h1v1h-1zM223 454h1v1h-1zM225 454h1v1h-1zM272 454h1v1h-1zM276 454h2v1h-2zM288 454h1v1h-1zM290 454h1v1h-1zM295 454h1v1h-1zM298 454h1v1h-1zM22 455h1v1h-1zM33 455h1v1h-1zM35 455h1v1h-1zM39 455h2v1h-2zM103 455h1v1h-1zM105 455h1v1h-1zM107 455h1v1h-1zM110 455h3v1h-3zM114 455h2v1h-2zM117 455h1v1h-1zM128 455h1v1h-1zM130 455h1v1h-1zM133 455h2v1h-2zM137 455h2v1h-2zM143 455h1v1h-1zM206 455h1v1h-1zM210 455h2v1h-2zM224 455h2v1h-2zM286 455h1v1h-1zM292 455h1v1h-1zM35 456h1v1h-1zM38 456h1v1h-1zM103 456h1v1h-1zM108 456h2v1h-2zM112 456h2v1h-2zM115 456h1v1h-1zM127 456h2v1h-2zM132 456h1v1h-1zM138 456h1v1h-1zM205 456h1v1h-1zM208 456h1v1h-1zM212 456h1v1h-1zM223 456h2v1h-2zM279 456h2v1h-2zM25 457h1v1h-1zM35 457h1v1h-1zM38 457h2v1h-2zM105 457h1v1h-1zM110 457h2v1h-2zM116 457h1v1h-1zM123 457h1v1h-1zM127 457h1v1h-1zM131 457h2v1h-2zM135 457h2v1h-2zM141 457h1v1h-1zM143 457h1v1h-1zM201 457h1v1h-1zM204 457h1v1h-1zM222 457h1v1h-1zM224 457h1v1h-1zM226 457h2v1h-2zM274 457h2v1h-2zM279 457h3v1h-3zM283 457h1v1h-1zM286 457h1v1h-1zM293 457h1v1h-1zM25 458h1v1h-1zM27 458h1v1h-1zM30 458h2v1h-2zM33 458h2v1h-2zM37 458h1v1h-1zM208 458h1v1h-1zM211 458h1v1h-1zM217 458h1v1h-1zM220 458h1v1h-1zM224 458h1v1h-1zM264 458h2v1h-2zM278 458h1v1h-1z"/><path fill="rgb(0,0,0)" d="M268 290h1v1h-1zM270 290h1v1h-1zM268 291h1v1h-1zM55 292h1v1h-1zM119 292h1v1h-1zM131 292h1v1h-1zM206 292h1v1h-1zM210 292h1v1h-1zM273 292h1v1h-1zM53 293h1v1h-1zM56 293h1v1h-1zM58 293h1v1h-1zM123 293h1v1h-1zM125 293h2v1h-2zM128 293h1v1h-1zM201 293h1v1h-1zM204 293h1v1h-1zM267 293h1v1h-1zM269 293h1v1h-1zM272 293h1v1h-1zM57 294h1v1h-1zM122 294h1v1h-1zM124 294h1v1h-1zM128 294h1v1h-1zM202 294h1v1h-1zM264 294h1v1h-1zM267 294h1v1h-1zM54 295h1v1h-1zM123 295h1v1h-1zM194 295h1v1h-1zM200 295h1v1h-1zM204 295h2v1h-2zM208 295h1v1h-1zM265 295h1v1h-1zM267 295h1v1h-1zM269 295h2v1h-2zM272 295h1v1h-1zM275 295h1v1h-1zM117 296h1v1h-1zM125 296h1v1h-1zM127 296h1v1h-1zM200 296h1v1h-1zM202 296h1v1h-1zM204 296h4v1h-4zM265 296h5v1h-5zM271 296h3v1h-3zM291 296h1v1h-1zM54 297h1v1h-1zM56 297h1v1h-1zM62 297h1v1h-1zM118 297h1v1h-1zM122 297h1v1h-1zM130 297h1v1h-1zM200 297h1v1h-1zM267 297h2v1h-2zM289 297h1v1h-1zM51 298h1v1h-1zM62 298h1v1h-1zM118 298h1v1h-1zM122 298h1v1h-1zM126 298h2v1h-2zM131 298h1v1h-1zM199 298h1v1h-1zM202 298h1v1h-1zM208 298h1v1h-1zM210 298h1v1h-1zM265 298h1v1h-1zM267 298h2v1h-2zM270 298h1v1h-1zM272 298h1v1h-1zM274 298h1v1h-1zM60 299h1v1h-1zM66 299h1v1h-1zM123 299h1v1h-1zM193 299h1v1h-1zM204 299h1v1h-1zM206 299h3v1h-3zM210 299h1v1h-1zM264 299h1v1h-1zM268 299h2v1h-2zM55 300h1v1h-1zM61 300h1v1h-1zM122 300h2v1h-2zM202 300h2v1h-2zM205 300h1v1h-1zM207 300h1v1h-1zM264 300h2v1h-2zM267 300h1v1h-1zM270 300h2v1h-2zM58 301h1v1h-1zM118 301h1v1h-1zM120 301h1v1h-1zM128 301h1v1h-1zM198 301h1v1h-1zM202 301h1v1h-1zM204 301h2v1h-2zM208 301h1v1h-1zM211 301h1v1h-1zM265 301h1v1h-1zM269 301h2v1h-2zM296 301h1v1h-1zM130 302h1v1h-1zM206 302h1v1h-1zM268 302h1v1h-1zM199 303h1v1h-1zM203 303h1v1h-1zM270 304h1v1h-1zM267 309h1v1h-1zM30 327h1v1h-1zM29 328h2v1h-2zM33 328h1v1h-1zM37 328h1v1h-1zM22 329h2v1h-2zM29 329h2v1h-2zM109 329h1v1h-1zM115 329h3v1h-3zM123 329h1v1h-1zM218 329h1v1h-1zM265 329h1v1h-1zM270 329h1v1h-1zM25 330h1v1h-1zM27 330h2v1h-2zM30 330h1v1h-1zM33 330h2v1h-2zM115 330h2v1h-2zM120 330h1v1h-1zM123 330h1v1h-1zM125 330h1v1h-1zM130 330h1v1h-1zM211 330h1v1h-1zM217 330h1v1h-1zM219 330h1v1h-1zM272 330h1v1h-1zM23 331h2v1h-2zM27 331h2v1h-2zM32 331h1v1h-1zM34 331h2v1h-2zM37 331h1v1h-1zM115 331h1v1h-1zM117 331h1v1h-1zM122 331h4v1h-4zM128 331h2v1h-2zM214 331h1v1h-1zM219 331h1v1h-1zM265 331h1v1h-1zM278 331h1v1h-1zM280 331h1v1h-1zM288 331h1v1h-1zM23 332h2v1h-2zM26 332h1v1h-1zM28 332h3v1h-3zM32 332h1v1h-1zM114 332h2v1h-2zM117 332h1v1h-1zM120 332h1v1h-1zM122 332h2v1h-2zM126 332h3v1h-3zM210 332h1v1h-1zM214 332h2v1h-2zM218 332h3v1h-3zM264 332h1v1h-1zM269 332h1v1h-1zM275 332h1v1h-1zM278 332h1v1h-1zM22 333h2v1h-2zM25 333h1v1h-1zM27 333h6v1h-6zM34 333h1v1h-1zM106 333h2v1h-2zM111 333h2v1h-2zM116 333h5v1h-5zM122 333h8v1h-8zM140 333h1v1h-1zM211 333h4v1h-4zM216 333h3v1h-3zM220 333h2v1h-2zM225 333h1v1h-1zM265 333h2v1h-2zM271 333h1v1h-1zM288 333h2v1h-2zM22 334h2v1h-2zM25 334h10v1h-10zM36 334h1v1h-1zM103 334h1v1h-1zM108 334h6v1h-6zM115 334h6v1h-6zM122 334h4v1h-4zM129 334h1v1h-1zM131 334h1v1h-1zM136 334h1v1h-1zM207 334h1v1h-1zM211 334h1v1h-1zM213 334h9v1h-9zM224 334h1v1h-1zM264 334h2v1h-2zM267 334h4v1h-4zM285 334h1v1h-1zM23 335h8v1h-8zM32 335h3v1h-3zM36 335h1v1h-1zM38 335h2v1h-2zM106 335h2v1h-2zM110 335h2v1h-2zM114 335h9v1h-9zM124 335h4v1h-4zM129 335h3v1h-3zM134 335h1v1h-1zM137 335h1v1h-1zM207 335h1v1h-1zM209 335h14v1h-14zM264 335h2v1h-2zM267 335h4v1h-4zM272 335h3v1h-3zM277 335h1v1h-1zM284 335h1v1h-1zM287 335h3v1h-3zM295 335h1v1h-1zM23 336h15v1h-15zM103 336h1v1h-1zM106 336h23v1h-23zM131 336h2v1h-2zM204 336h2v1h-2zM210 336h11v1h-11zM227 336h1v1h-1zM264 336h8v1h-8zM273 336h1v1h-1zM276 336h1v1h-1zM282 336h1v1h-1zM296 336h2v1h-2zM22 337h15v1h-15zM103 337h1v1h-1zM106 337h1v1h-1zM108 337h1v1h-1zM110 337h21v1h-21zM132 337h2v1h-2zM137 337h1v1h-1zM207 337h18v1h-18zM227 337h1v1h-1zM264 337h12v1h-12zM279 337h1v1h-1zM288 337h1v1h-1zM290 337h1v1h-1zM23 338h11v1h-11zM35 338h1v1h-1zM103 338h2v1h-2zM106 338h4v1h-4zM111 338h15v1h-15zM127 338h7v1h-7zM135 338h1v1h-1zM206 338h1v1h-1zM208 338h18v1h-18zM264 338h3v1h-3zM268 338h8v1h-8zM283 338h1v1h-1zM285 338h2v1h-2zM23 339h15v1h-15zM103 339h6v1h-6zM110 339h23v1h-23zM134 339h2v1h-2zM207 339h16v1h-16zM224 339h1v1h-1zM228 339h1v1h-1zM264 339h11v1h-11zM276 339h1v1h-1zM286 339h2v1h-2zM289 339h1v1h-1zM295 339h1v1h-1zM22 340h16v1h-16zM103 340h2v1h-2zM106 340h1v1h-1zM109 340h18v1h-18zM128 340h7v1h-7zM136 340h1v1h-1zM206 340h18v1h-18zM264 340h14v1h-14zM279 340h1v1h-1zM292 340h1v1h-1zM23 341h15v1h-15zM103 341h3v1h-3zM108 341h23v1h-23zM132 341h1v1h-1zM135 341h1v1h-1zM137 341h1v1h-1zM142 341h1v1h-1zM203 341h1v1h-1zM207 341h18v1h-18zM226 341h1v1h-1zM264 341h13v1h-13zM279 341h1v1h-1zM282 341h2v1h-2zM287 341h1v1h-1zM291 341h1v1h-1zM22 342h14v1h-14zM37 342h2v1h-2zM103 342h2v1h-2zM107 342h25v1h-25zM133 342h3v1h-3zM199 342h1v1h-1zM206 342h1v1h-1zM208 342h16v1h-16zM225 342h1v1h-1zM264 342h11v1h-11zM285 342h1v1h-1zM292 342h1v1h-1zM23 343h10v1h-10zM34 343h1v1h-1zM36 343h1v1h-1zM103 343h1v1h-1zM107 343h25v1h-25zM133 343h1v1h-1zM137 343h1v1h-1zM206 343h2v1h-2zM209 343h16v1h-16zM264 343h11v1h-11zM276 343h1v1h-1zM289 343h2v1h-2zM22 344h7v1h-7zM30 344h7v1h-7zM39 344h1v1h-1zM103 344h1v1h-1zM105 344h1v1h-1zM107 344h2v1h-2zM110 344h22v1h-22zM140 344h1v1h-1zM208 344h2v1h-2zM211 344h15v1h-15zM264 344h5v1h-5zM270 344h7v1h-7zM283 344h2v1h-2zM23 345h12v1h-12zM36 345h1v1h-1zM38 345h1v1h-1zM103 345h1v1h-1zM105 345h1v1h-1zM111 345h20v1h-20zM132 345h1v1h-1zM205 345h1v1h-1zM208 345h1v1h-1zM210 345h13v1h-13zM224 345h2v1h-2zM228 345h1v1h-1zM264 345h9v1h-9zM274 345h1v1h-1zM279 345h1v1h-1zM22 346h13v1h-13zM36 346h4v1h-4zM103 346h1v1h-1zM106 346h1v1h-1zM108 346h4v1h-4zM115 346h3v1h-3zM119 346h4v1h-4zM124 346h1v1h-1zM127 346h3v1h-3zM132 346h1v1h-1zM139 346h1v1h-1zM142 346h1v1h-1zM204 346h1v1h-1zM210 346h16v1h-16zM264 346h6v1h-6zM271 346h1v1h-1zM273 346h4v1h-4zM278 346h1v1h-1zM22 347h9v1h-9zM32 347h1v1h-1zM111 347h1v1h-1zM113 347h10v1h-10zM125 347h3v1h-3zM136 347h1v1h-1zM206 347h2v1h-2zM209 347h12v1h-12zM222 347h4v1h-4zM264 347h6v1h-6zM271 347h2v1h-2zM274 347h2v1h-2zM278 347h1v1h-1zM290 347h1v1h-1zM22 348h7v1h-7zM30 348h5v1h-5zM104 348h1v1h-1zM108 348h1v1h-1zM112 348h1v1h-1zM114 348h4v1h-4zM120 348h2v1h-2zM124 348h1v1h-1zM209 348h11v1h-11zM222 348h2v1h-2zM264 348h10v1h-10zM23 349h11v1h-11zM35 349h2v1h-2zM107 349h1v1h-1zM111 349h3v1h-3zM115 349h1v1h-1zM118 349h1v1h-1zM121 349h5v1h-5zM127 349h2v1h-2zM136 349h1v1h-1zM208 349h2v1h-2zM212 349h1v1h-1zM214 349h10v1h-10zM264 349h10v1h-10zM277 349h1v1h-1zM293 349h1v1h-1zM23 350h1v1h-1zM25 350h8v1h-8zM34 350h3v1h-3zM115 350h1v1h-1zM120 350h1v1h-1zM123 350h2v1h-2zM128 350h1v1h-1zM210 350h3v1h-3zM214 350h7v1h-7zM222 350h2v1h-2zM264 350h9v1h-9zM275 350h1v1h-1zM128 397h1v1h-1zM264 398h1v1h-1zM133 400h1v1h-1zM199 400h1v1h-1zM269 400h1v1h-1zM130 401h1v1h-1zM134 401h2v1h-2zM138 401h1v1h-1zM206 401h1v1h-1zM264 401h1v1h-1zM267 401h4v1h-4zM51 402h2v1h-2zM132 402h1v1h-1zM266 402h2v1h-2zM269 402h1v1h-1zM271 402h2v1h-2zM52 403h2v1h-2zM124 403h1v1h-1zM127 403h1v1h-1zM130 403h1v1h-1zM133 403h2v1h-2zM202 403h2v1h-2zM266 403h1v1h-1zM268 403h1v1h-1zM270 403h1v1h-1zM272 403h1v1h-1zM284 403h1v1h-1zM290 403h1v1h-1zM295 403h1v1h-1zM46 404h1v1h-1zM53 404h1v1h-1zM128 404h1v1h-1zM130 404h4v1h-4zM198 404h2v1h-2zM204 404h2v1h-2zM265 404h1v1h-1zM267 404h3v1h-3zM271 404h2v1h-2zM275 404h1v1h-1zM47 405h1v1h-1zM50 405h1v1h-1zM53 405h2v1h-2zM59 405h1v1h-1zM127 405h2v1h-2zM136 405h1v1h-1zM192 405h1v1h-1zM199 405h2v1h-2zM205 405h1v1h-1zM207 405h1v1h-1zM212 405h1v1h-1zM269 405h1v1h-1zM272 405h1v1h-1zM290 405h1v1h-1zM52 406h1v1h-1zM54 406h2v1h-2zM190 406h1v1h-1zM196 406h1v1h-1zM204 406h1v1h-1zM206 406h2v1h-2zM209 406h2v1h-2zM265 406h3v1h-3zM269 406h1v1h-1zM271 406h1v1h-1zM289 406h2v1h-2zM294 406h1v1h-1zM55 407h1v1h-1zM60 407h1v1h-1zM121 407h1v1h-1zM133 407h1v1h-1zM193 407h1v1h-1zM204 407h1v1h-1zM207 407h1v1h-1zM209 407h1v1h-1zM211 407h1v1h-1zM265 407h1v1h-1zM267 407h1v1h-1zM269 407h3v1h-3zM48 408h1v1h-1zM56 408h2v1h-2zM128 408h1v1h-1zM137 408h1v1h-1zM198 408h1v1h-1zM201 408h1v1h-1zM203 408h1v1h-1zM205 408h2v1h-2zM270 408h2v1h-2zM274 408h1v1h-1zM278 408h1v1h-1zM56 409h1v1h-1zM134 409h1v1h-1zM200 409h2v1h-2zM265 409h1v1h-1zM268 409h3v1h-3zM206 410h1v1h-1zM268 410h1v1h-1zM270 410h2v1h-2zM52 411h1v1h-1zM57 411h1v1h-1zM123 411h1v1h-1zM201 411h1v1h-1zM271 411h1v1h-1zM285 411h1v1h-1zM46 412h1v1h-1zM134 412h1v1h-1zM269 412h1v1h-1zM268 413h1v1h-1zM222 435h1v1h-1zM38 436h1v1h-1zM132 436h1v1h-1zM28 437h1v1h-1zM129 437h1v1h-1zM209 437h1v1h-1zM211 437h1v1h-1zM218 437h1v1h-1zM265 437h1v1h-1zM23 438h2v1h-2zM26 438h1v1h-1zM28 438h1v1h-1zM31 438h1v1h-1zM33 438h1v1h-1zM116 438h1v1h-1zM120 438h1v1h-1zM123 438h1v1h-1zM125 438h1v1h-1zM129 438h1v1h-1zM210 438h1v1h-1zM212 438h1v1h-1zM214 438h3v1h-3zM219 438h1v1h-1zM221 438h1v1h-1zM264 438h2v1h-2zM270 438h1v1h-1zM278 438h1v1h-1zM25 439h4v1h-4zM32 439h1v1h-1zM108 439h1v1h-1zM110 439h2v1h-2zM114 439h2v1h-2zM120 439h1v1h-1zM122 439h2v1h-2zM125 439h2v1h-2zM212 439h1v1h-1zM214 439h1v1h-1zM219 439h2v1h-2zM224 439h1v1h-1zM265 439h1v1h-1zM268 439h3v1h-3zM277 439h1v1h-1zM25 440h1v1h-1zM27 440h1v1h-1zM29 440h1v1h-1zM31 440h2v1h-2zM36 440h1v1h-1zM106 440h1v1h-1zM113 440h2v1h-2zM116 440h1v1h-1zM119 440h4v1h-4zM124 440h1v1h-1zM127 440h1v1h-1zM131 440h1v1h-1zM211 440h3v1h-3zM215 440h3v1h-3zM220 440h2v1h-2zM264 440h4v1h-4zM271 440h1v1h-1zM282 440h1v1h-1zM289 440h1v1h-1zM22 441h1v1h-1zM24 441h2v1h-2zM27 441h2v1h-2zM32 441h3v1h-3zM109 441h2v1h-2zM119 441h6v1h-6zM126 441h2v1h-2zM132 441h1v1h-1zM135 441h1v1h-1zM210 441h2v1h-2zM213 441h1v1h-1zM215 441h2v1h-2zM218 441h2v1h-2zM224 441h1v1h-1zM265 441h2v1h-2zM270 441h2v1h-2zM273 441h1v1h-1zM285 441h1v1h-1zM23 442h1v1h-1zM25 442h1v1h-1zM27 442h3v1h-3zM31 442h1v1h-1zM34 442h3v1h-3zM109 442h3v1h-3zM113 442h9v1h-9zM123 442h3v1h-3zM128 442h2v1h-2zM132 442h2v1h-2zM144 442h1v1h-1zM207 442h2v1h-2zM210 442h14v1h-14zM264 442h2v1h-2zM267 442h4v1h-4zM274 442h1v1h-1zM287 442h1v1h-1zM22 443h4v1h-4zM27 443h8v1h-8zM36 443h1v1h-1zM105 443h1v1h-1zM107 443h1v1h-1zM111 443h1v1h-1zM113 443h17v1h-17zM132 443h1v1h-1zM135 443h1v1h-1zM207 443h1v1h-1zM210 443h2v1h-2zM213 443h11v1h-11zM265 443h8v1h-8zM274 443h1v1h-1zM282 443h1v1h-1zM285 443h1v1h-1zM292 443h1v1h-1zM23 444h14v1h-14zM110 444h1v1h-1zM112 444h20v1h-20zM133 444h1v1h-1zM135 444h1v1h-1zM139 444h1v1h-1zM208 444h2v1h-2zM211 444h13v1h-13zM264 444h12v1h-12zM277 444h1v1h-1zM298 444h1v1h-1zM22 445h17v1h-17zM110 445h23v1h-23zM134 445h2v1h-2zM145 445h1v1h-1zM206 445h3v1h-3zM210 445h15v1h-15zM264 445h10v1h-10zM275 445h1v1h-1zM285 445h3v1h-3zM289 445h1v1h-1zM293 445h1v1h-1zM295 445h1v1h-1zM23 446h13v1h-13zM37 446h2v1h-2zM108 446h2v1h-2zM111 446h21v1h-21zM139 446h1v1h-1zM206 446h17v1h-17zM224 446h1v1h-1zM264 446h3v1h-3zM268 446h8v1h-8zM277 446h2v1h-2zM280 446h2v1h-2zM289 446h1v1h-1zM293 446h1v1h-1zM296 446h1v1h-1zM23 447h16v1h-16zM103 447h1v1h-1zM108 447h1v1h-1zM111 447h19v1h-19zM131 447h4v1h-4zM136 447h1v1h-1zM138 447h1v1h-1zM141 447h1v1h-1zM208 447h17v1h-17zM264 447h9v1h-9zM274 447h3v1h-3zM281 447h1v1h-1zM289 447h1v1h-1zM293 447h1v1h-1zM295 447h1v1h-1zM22 448h16v1h-16zM104 448h1v1h-1zM107 448h1v1h-1zM110 448h22v1h-22zM133 448h2v1h-2zM136 448h1v1h-1zM138 448h1v1h-1zM192 448h1v1h-1zM206 448h1v1h-1zM208 448h15v1h-15zM225 448h1v1h-1zM264 448h11v1h-11zM276 448h2v1h-2zM280 448h1v1h-1zM287 448h1v1h-1zM291 448h1v1h-1zM293 448h1v1h-1zM297 448h1v1h-1zM22 449h15v1h-15zM107 449h3v1h-3zM111 449h23v1h-23zM207 449h20v1h-20zM264 449h15v1h-15zM283 449h1v1h-1zM285 449h1v1h-1zM289 449h1v1h-1zM22 450h12v1h-12zM35 450h2v1h-2zM106 450h2v1h-2zM109 450h25v1h-25zM203 450h1v1h-1zM205 450h1v1h-1zM207 450h18v1h-18zM264 450h9v1h-9zM274 450h4v1h-4zM282 450h1v1h-1zM285 450h1v1h-1zM289 450h1v1h-1zM296 450h1v1h-1zM301 450h1v1h-1zM22 451h13v1h-13zM36 451h1v1h-1zM38 451h1v1h-1zM103 451h1v1h-1zM108 451h1v1h-1zM110 451h19v1h-19zM131 451h2v1h-2zM134 451h2v1h-2zM137 451h1v1h-1zM205 451h2v1h-2zM208 451h16v1h-16zM225 451h2v1h-2zM264 451h12v1h-12zM279 451h1v1h-1zM287 451h2v1h-2zM22 452h16v1h-16zM41 452h1v1h-1zM103 452h1v1h-1zM106 452h1v1h-1zM108 452h1v1h-1zM111 452h22v1h-22zM206 452h1v1h-1zM208 452h1v1h-1zM210 452h15v1h-15zM264 452h9v1h-9zM282 452h1v1h-1zM22 453h15v1h-15zM103 453h1v1h-1zM105 453h2v1h-2zM108 453h2v1h-2zM112 453h2v1h-2zM115 453h3v1h-3zM119 453h9v1h-9zM129 453h1v1h-1zM131 453h2v1h-2zM205 453h1v1h-1zM207 453h15v1h-15zM223 453h3v1h-3zM264 453h10v1h-10zM275 453h1v1h-1zM277 453h1v1h-1zM279 453h2v1h-2zM292 453h1v1h-1zM23 454h14v1h-14zM112 454h1v1h-1zM116 454h6v1h-6zM123 454h5v1h-5zM129 454h1v1h-1zM131 454h2v1h-2zM208 454h1v1h-1zM210 454h13v1h-13zM264 454h8v1h-8zM273 454h3v1h-3zM279 454h1v1h-1zM23 455h10v1h-10zM34 455h1v1h-1zM37 455h2v1h-2zM108 455h2v1h-2zM113 455h1v1h-1zM116 455h1v1h-1zM118 455h10v1h-10zM129 455h1v1h-1zM208 455h1v1h-1zM213 455h10v1h-10zM264 455h12v1h-12zM23 456h12v1h-12zM36 456h1v1h-1zM110 456h2v1h-2zM114 456h1v1h-1zM116 456h11v1h-11zM129 456h3v1h-3zM133 456h2v1h-2zM136 456h1v1h-1zM209 456h3v1h-3zM213 456h10v1h-10zM225 456h2v1h-2zM264 456h12v1h-12zM23 457h2v1h-2zM26 457h9v1h-9zM36 457h1v1h-1zM106 457h2v1h-2zM109 457h1v1h-1zM112 457h4v1h-4zM117 457h6v1h-6zM124 457h3v1h-3zM128 457h1v1h-1zM130 457h1v1h-1zM207 457h1v1h-1zM209 457h13v1h-13zM264 457h10v1h-10zM26 458h1v1h-1zM113 458h1v1h-1zM124 458h1v1h-1zM214 458h1v1h-1zM269 458h1v1h-1z"/></g>
<g class="m"><text x="0" y="14" font-size="17" text-anchor="start" font-weight="bold" style="stroke:#000;stroke-width:0.55px">A</text><line x1="103.4" y1="11" x2="103.4" y2="198.5" stroke="#e0e0e0" stroke-width="1.3" /><line x1="165.4" y1="11" x2="165.4" y2="198.5" stroke="#e0e0e0" stroke-width="1.3" /><line x1="221.9" y1="11" x2="221.9" y2="198.5" stroke="#e0e0e0" stroke-width="1.3" /><line x1="281.9" y1="11" x2="281.9" y2="198.5" stroke="#e0e0e0" stroke-width="1.3" /><path d="M48.9 11H338V198.5H48.9" fill="none" stroke="#3a3a3a" stroke-width="1.2"/><line x1="48.9" y1="11" x2="48.9" y2="198.5" stroke="#3a3a3a" stroke-width="1.3" /><line x1="44.3" y1="11.2" x2="48.9" y2="11.2" stroke="#3a3a3a" stroke-width="1.1" /><text x="41.5" y="14.299999999999999" font-size="9.9" text-anchor="end" font-weight="normal" >100</text><line x1="44.3" y1="48.650000000000006" x2="48.9" y2="48.650000000000006" stroke="#3a3a3a" stroke-width="1.1" /><text x="41.5" y="51.75000000000001" font-size="9.9" text-anchor="end" font-weight="normal" >10</text><line x1="44.3" y1="86.10000000000001" x2="48.9" y2="86.10000000000001" stroke="#3a3a3a" stroke-width="1.1" /><text x="41.5" y="89.2" font-size="9.9" text-anchor="end" font-weight="normal" >1</text><line x1="44.3" y1="123.55000000000001" x2="48.9" y2="123.55000000000001" stroke="#3a3a3a" stroke-width="1.1" /><text x="41.5" y="126.65" font-size="9.9" text-anchor="end" font-weight="normal" >0,1</text><line x1="44.3" y1="161.0" x2="48.9" y2="161.0" stroke="#3a3a3a" stroke-width="1.1" /><text x="41.5" y="164.1" font-size="9.9" text-anchor="end" font-weight="normal" >0,01</text><line x1="44.3" y1="198.5" x2="48.9" y2="198.5" stroke="#3a3a3a" stroke-width="1.1" /><text x="41.5" y="200.0" font-size="9.9" text-anchor="end" font-weight="normal" >0</text><text transform="translate(10.6,100.7) rotate(-90)" font-size="11" text-anchor="middle">Nb of recovered</text><text transform="translate(23.1,100) rotate(-90)" font-size="11.22" text-anchor="middle">CD4<tspan font-size="7.9" dy="-4.3">+</tspan><tspan dy="4.3"> T cells (x10</tspan><tspan font-size="8.2" dy="-4.3">-6</tspan><tspan dy="4.3">)</tspan></text><text x="74" y="213.6" font-size="10.5" text-anchor="middle" font-weight="normal" >10</text><text x="132.5" y="213.6" font-size="10.5" text-anchor="middle" font-weight="normal" >25</text><text x="191.7" y="213.6" font-size="10.5" text-anchor="middle" font-weight="normal" >500</text><text x="250.5" y="213.6" font-size="10.5" text-anchor="middle" font-weight="normal" >5000</text><text x="309.5" y="213.6" font-size="10.5" text-anchor="middle" font-weight="normal" >50000</text><text x="186" y="226.3" font-size="11.3" text-anchor="middle">Nb of injected CD4<tspan font-size="7.7" dy="-4.3">+</tspan><tspan dy="4.3"> T cells</tspan></text><path d="M57.7 18.0L62.6 22.2L57.7 26.4L52.8 22.2Z" fill="#fff" stroke="#111" stroke-width="1.15"/><text x="64" y="25.8" font-size="10">C57BL/6 CD3<tspan font-family="Liberation Serif" font-size="10">&#949;</tspan><tspan font-size="6.8" dy="-4">-/-</tspan></text><circle cx="57.7" cy="34.3" r="3.5" fill="#f0f0f0" stroke="#111" stroke-width="1.1"/><text x="65.6" y="38" font-size="10">NOD C<tspan font-family="Liberation Serif" font-size="10">&#945;</tspan><tspan font-size="6.8" dy="-4">-/-</tspan></text><path d="M122.3 78.8V74.4H144.5V78.8" fill="none" stroke="#333" stroke-width="1.2"/><text x="133.6" y="71.2" font-size="10.5" text-anchor="middle" font-weight="normal" >ns</text><path d="M182.3 32.6V28.2H203.5V32.6" fill="none" stroke="#333" stroke-width="1.2"/><path d="M185.50 20.05L185.50 25.75M183.03 21.47L187.97 24.32M187.97 21.47L183.03 24.32" stroke="#222" stroke-width="1.05" stroke-linecap="round"/><path d="M192.90 20.05L192.90 25.75M190.43 21.47L195.37 24.32M195.37 21.47L190.43 24.32" stroke="#222" stroke-width="1.05" stroke-linecap="round"/><path d="M200.30 20.05L200.30 25.75M197.83 21.47L202.77 24.32M202.77 21.47L197.83 24.32" stroke="#222" stroke-width="1.05" stroke-linecap="round"/><path d="M241.4 25.0V20.6H262.3V25.0" fill="none" stroke="#333" stroke-width="1.2"/><path d="M244.45 12.95L244.45 18.65M241.98 14.38L246.92 17.23M246.92 14.38L241.98 17.23" stroke="#222" stroke-width="1.05" stroke-linecap="round"/><path d="M251.85 12.95L251.85 18.65M249.38 14.38L254.32 17.23M254.32 14.38L249.38 17.23" stroke="#222" stroke-width="1.05" stroke-linecap="round"/><path d="M259.25 12.95L259.25 18.65M256.78 14.38L261.72 17.23M261.72 14.38L256.78 17.23" stroke="#222" stroke-width="1.05" stroke-linecap="round"/><path d="M300.5 25.299999999999997V20.9H321.8V25.299999999999997" fill="none" stroke="#333" stroke-width="1.2"/><path d="M303.75 12.95L303.75 18.65M301.28 14.38L306.22 17.23M306.22 14.38L301.28 17.23" stroke="#222" stroke-width="1.05" stroke-linecap="round"/><path d="M311.15 12.95L311.15 18.65M308.68 14.38L313.62 17.23M313.62 14.38L308.68 17.23" stroke="#222" stroke-width="1.05" stroke-linecap="round"/><path d="M318.55 12.95L318.55 18.65M316.08 14.38L321.02 17.23M321.02 14.38L316.08 17.23" stroke="#222" stroke-width="1.05" stroke-linecap="round"/><path d="M123.0 126.0L127.1 130.1L123.0 134.2L118.9 130.1Z" fill="#fff" stroke="#111" stroke-width="1.15"/><path d="M123.0 150.3L127.1 154.4L123.0 158.5L118.9 154.4Z" fill="#fff" stroke="#111" stroke-width="1.15"/><path d="M122.5 182.8L126.6 186.9L122.5 191.0L118.4 186.9Z" fill="#fff" stroke="#111" stroke-width="1.15"/><path d="M122.5 188.3L126.6 192.4L122.5 196.5L118.4 192.4Z" fill="#fff" stroke="#111" stroke-width="1.15"/><path d="M117.2 194.3L121.3 198.4L117.2 202.5L113.1 198.4Z" fill="#fff" stroke="#111" stroke-width="1.15"/><path d="M127.8 194.3L131.9 198.4L127.8 202.5L123.7 198.4Z" fill="#fff" stroke="#111" stroke-width="1.15"/><path d="M118.4 194.3L122.5 198.4L118.4 202.5L114.3 198.4Z" fill="#fff" stroke="#111" stroke-width="1.15"/><path d="M126.6 194.3L130.7 198.4L126.6 202.5L122.5 198.4Z" fill="#fff" stroke="#111" stroke-width="1.15"/><path d="M119.6 194.3L123.7 198.4L119.6 202.5L115.5 198.4Z" fill="#fff" stroke="#111" stroke-width="1.15"/><path d="M125.4 194.3L129.5 198.4L125.4 202.5L121.3 198.4Z" fill="#fff" stroke="#111" stroke-width="1.15"/><path d="M120.6 194.3L124.7 198.4L120.6 202.5L116.5 198.4Z" fill="#fff" stroke="#111" stroke-width="1.15"/><path d="M124.4 194.3L128.5 198.4L124.4 202.5L120.3 198.4Z" fill="#fff" stroke="#111" stroke-width="1.15"/><path d="M122.5 194.3L126.6 198.4L122.5 202.5L118.4 198.4Z" fill="#fff" stroke="#111" stroke-width="1.15"/><path d="M182.1 102.7L186.2 106.8L182.1 110.9L178.0 106.8Z" fill="#fff" stroke="#111" stroke-width="1.15"/><path d="M176.4 117.2L180.5 121.3L176.4 125.4L172.3 121.3Z" fill="#fff" stroke="#111" stroke-width="1.15"/><path d="M182.1 121.5L186.2 125.6L182.1 129.7L178.0 125.6Z" fill="#fff" stroke="#111" stroke-width="1.15"/><path d="M176.4 138.7L180.5 142.8L176.4 146.9L172.3 142.8Z" fill="#fff" stroke="#111" stroke-width="1.15"/><path d="M182.1 136.5L186.2 140.6L182.1 144.7L178.0 140.6Z" fill="#fff" stroke="#111" stroke-width="1.15"/><path d="M182.1 146.9L186.2 151.0L182.1 155.1L178.0 151.0Z" fill="#fff" stroke="#111" stroke-width="1.15"/><path d="M182.1 162.4L186.2 166.5L182.1 170.6L178.0 166.5Z" fill="#fff" stroke="#111" stroke-width="1.15"/><path d="M187.5 161.2L191.6 165.3L187.5 169.4L183.4 165.3Z" fill="#fff" stroke="#111" stroke-width="1.15"/><path d="M182.1 175.7L186.2 179.8L182.1 183.9L178.0 179.8Z" fill="#fff" stroke="#111" stroke-width="1.15"/><path d="M182.1 194.3L186.2 198.4L182.1 202.5L178.0 198.4Z" fill="#fff" stroke="#111" stroke-width="1.15"/><path d="M235.9 49.8L240.0 53.9L235.9 58.0L231.8 53.9Z" fill="#fff" stroke="#111" stroke-width="1.15"/><path d="M241.2 52.5L245.3 56.6L241.2 60.7L237.1 56.6Z" fill="#fff" stroke="#111" stroke-width="1.15"/><path d="M241.6 66.0L245.7 70.1L241.6 74.2L237.5 70.1Z" fill="#fff" stroke="#111" stroke-width="1.15"/><path d="M237.2 69.1L241.3 73.2L237.2 77.3L233.1 73.2Z" fill="#fff" stroke="#111" stroke-width="1.15"/><path d="M243.5 69.1L247.6 73.2L243.5 77.3L239.4 73.2Z" fill="#fff" stroke="#111" stroke-width="1.15"/><path d="M234.7 73.6L238.8 77.7L234.7 81.8L230.6 77.7Z" fill="#fff" stroke="#111" stroke-width="1.15"/><path d="M241.0 75.5L245.1 79.6L241.0 83.7L236.9 79.6Z" fill="#fff" stroke="#111" stroke-width="1.15"/><path d="M247.3 74.2L251.4 78.3L247.3 82.4L243.2 78.3Z" fill="#fff" stroke="#111" stroke-width="1.15"/><path d="M235.7 81.2L239.8 85.3L235.7 89.4L231.6 85.3Z" fill="#fff" stroke="#111" stroke-width="1.15"/><path d="M241.0 84.3L245.1 88.4L241.0 92.5L236.9 88.4Z" fill="#fff" stroke="#111" stroke-width="1.15"/><path d="M243.5 88.1L247.6 92.2L243.5 96.3L239.4 92.2Z" fill="#fff" stroke="#111" stroke-width="1.15"/><path d="M235.7 89.8L239.8 93.9L235.7 98.0L231.6 93.9Z" fill="#fff" stroke="#111" stroke-width="1.15"/><path d="M247.3 91.9L251.4 96.0L247.3 100.1L243.2 96.0Z" fill="#fff" stroke="#111" stroke-width="1.15"/><path d="M241.2 97.6L245.3 101.7L241.2 105.8L237.1 101.7Z" fill="#fff" stroke="#111" stroke-width="1.15"/><path d="M241.2 117.7L245.3 121.8L241.2 125.9L237.1 121.8Z" fill="#fff" stroke="#111" stroke-width="1.15"/><path d="M241.2 154.2L245.3 158.3L241.2 162.4L237.1 158.3Z" fill="#fff" stroke="#111" stroke-width="1.15"/><path d="M300.4 33.6L304.5 37.7L300.4 41.8L296.3 37.7Z" fill="#fff" stroke="#111" stroke-width="1.15"/><path d="M300.4 43.7L304.5 47.8L300.4 51.9L296.3 47.8Z" fill="#fff" stroke="#111" stroke-width="1.15"/><path d="M295.9 49.4L300.0 53.5L295.9 57.6L291.8 53.5Z" fill="#fff" stroke="#111" stroke-width="1.15"/><path d="M306.0 49.4L310.1 53.5L306.0 57.6L301.9 53.5Z" fill="#fff" stroke="#111" stroke-width="1.15"/><path d="M294.7 58.9L298.8 63.0L294.7 67.1L290.6 63.0Z" fill="#fff" stroke="#111" stroke-width="1.15"/><path d="M300.4 58.3L304.5 62.4L300.4 66.5L296.3 62.4Z" fill="#fff" stroke="#111" stroke-width="1.15"/><path d="M306.7 59.6L310.8 63.7L306.7 67.8L302.6 63.7Z" fill="#fff" stroke="#111" stroke-width="1.15"/><path d="M298.5 63.4L302.6 67.5L298.5 71.6L294.4 67.5Z" fill="#fff" stroke="#111" stroke-width="1.15"/><path d="M304.2 63.4L308.3 67.5L304.2 71.6L300.1 67.5Z" fill="#fff" stroke="#111" stroke-width="1.15"/><path d="M294.7 68.4L298.8 72.5L294.7 76.6L290.6 72.5Z" fill="#fff" stroke="#111" stroke-width="1.15"/><path d="M300.4 67.2L304.5 71.3L300.4 75.4L296.3 71.3Z" fill="#fff" stroke="#111" stroke-width="1.15"/><path d="M306.7 69.1L310.8 73.2L306.7 77.3L302.6 73.2Z" fill="#fff" stroke="#111" stroke-width="1.15"/><path d="M297.2 73.5L301.3 77.6L297.2 81.7L293.1 77.6Z" fill="#fff" stroke="#111" stroke-width="1.15"/><path d="M304.2 73.5L308.3 77.6L304.2 81.7L300.1 77.6Z" fill="#fff" stroke="#111" stroke-width="1.15"/><path d="M294.7 76.0L298.8 80.1L294.7 84.2L290.6 80.1Z" fill="#fff" stroke="#111" stroke-width="1.15"/><path d="M300.4 73.5L304.5 77.6L300.4 81.7L296.3 77.6Z" fill="#fff" stroke="#111" stroke-width="1.15"/><path d="M306.0 76.7L310.1 80.8L306.0 84.9L301.9 80.8Z" fill="#fff" stroke="#111" stroke-width="1.15"/><path d="M294.7 84.3L298.8 88.4L294.7 92.5L290.6 88.4Z" fill="#fff" stroke="#111" stroke-width="1.15"/><path d="M300.4 81.7L304.5 85.8L300.4 89.9L296.3 85.8Z" fill="#fff" stroke="#111" stroke-width="1.15"/><path d="M306.0 83.6L310.1 87.7L306.0 91.8L301.9 87.7Z" fill="#fff" stroke="#111" stroke-width="1.15"/><path d="M300.4 91.8L304.5 95.9L300.4 100.0L296.3 95.9Z" fill="#fff" stroke="#111" stroke-width="1.15"/><path d="M300.4 124.8L304.5 128.9L300.4 133.0L296.3 128.9Z" fill="#fff" stroke="#111" stroke-width="1.15"/><circle cx="90.6" cy="121.6" r="3.55" fill="#f1f1f1" stroke="#111" stroke-width="1.1"/><circle cx="84.7" cy="130.5" r="3.55" fill="#f1f1f1" stroke="#111" stroke-width="1.1"/><circle cx="84.7" cy="169.0" r="3.55" fill="#f1f1f1" stroke="#111" stroke-width="1.1"/><circle cx="79.0" cy="198.4" r="3.55" fill="#f1f1f1" stroke="#111" stroke-width="1.1"/><circle cx="82.5" cy="198.4" r="3.55" fill="#f1f1f1" stroke="#111" stroke-width="1.1"/><circle cx="86.0" cy="198.4" r="3.55" fill="#f1f1f1" stroke="#111" stroke-width="1.1"/><circle cx="89.5" cy="198.4" r="3.55" fill="#f1f1f1" stroke="#111" stroke-width="1.1"/><circle cx="143.9" cy="100.9" r="3.55" fill="#f1f1f1" stroke="#111" stroke-width="1.1"/><circle cx="149.8" cy="99.4" r="3.55" fill="#f1f1f1" stroke="#111" stroke-width="1.1"/><circle cx="138.3" cy="122.5" r="3.55" fill="#f1f1f1" stroke="#111" stroke-width="1.1"/><circle cx="144.3" cy="122.5" r="3.55" fill="#f1f1f1" stroke="#111" stroke-width="1.1"/><circle cx="149.8" cy="121.6" r="3.55" fill="#f1f1f1" stroke="#111" stroke-width="1.1"/><circle cx="138.7" cy="129.7" r="3.55" fill="#f1f1f1" stroke="#111" stroke-width="1.1"/><circle cx="146.5" cy="128.7" r="3.55" fill="#f1f1f1" stroke="#111" stroke-width="1.1"/><circle cx="149.5" cy="131.7" r="3.55" fill="#f1f1f1" stroke="#111" stroke-width="1.1"/><circle cx="143.9" cy="135.6" r="3.55" fill="#f1f1f1" stroke="#111" stroke-width="1.1"/><circle cx="138.7" cy="145.2" r="3.55" fill="#f1f1f1" stroke="#111" stroke-width="1.1"/><circle cx="144.3" cy="149.8" r="3.55" fill="#f1f1f1" stroke="#111" stroke-width="1.1"/><circle cx="143.9" cy="172.4" r="3.55" fill="#f1f1f1" stroke="#111" stroke-width="1.1"/><circle cx="143.9" cy="182.5" r="3.55" fill="#f1f1f1" stroke="#111" stroke-width="1.1"/><circle cx="143.9" cy="190.0" r="3.55" fill="#f1f1f1" stroke="#111" stroke-width="1.1"/><circle cx="138.7" cy="198.4" r="3.55" fill="#f1f1f1" stroke="#111" stroke-width="1.1"/><circle cx="143.9" cy="198.4" r="3.55" fill="#f1f1f1" stroke="#111" stroke-width="1.1"/><circle cx="147.8" cy="198.4" r="3.55" fill="#f1f1f1" stroke="#111" stroke-width="1.1"/><circle cx="149.8" cy="198.4" r="3.55" fill="#f1f1f1" stroke="#111" stroke-width="1.1"/><circle cx="151.7" cy="198.4" r="3.55" fill="#f1f1f1" stroke="#111" stroke-width="1.1"/><circle cx="203.6" cy="47.3" r="3.55" fill="#f1f1f1" stroke="#111" stroke-width="1.1"/><circle cx="203.6" cy="57.7" r="3.55" fill="#f1f1f1" stroke="#111" stroke-width="1.1"/><circle cx="201.4" cy="62.8" r="3.55" fill="#f1f1f1" stroke="#111" stroke-width="1.1"/><circle cx="206.5" cy="63.4" r="3.55" fill="#f1f1f1" stroke="#111" stroke-width="1.1"/><circle cx="197.6" cy="69.4" r="3.55" fill="#f1f1f1" stroke="#111" stroke-width="1.1"/><circle cx="203.6" cy="70.6" r="3.55" fill="#f1f1f1" stroke="#111" stroke-width="1.1"/><circle cx="209.0" cy="68.9" r="3.55" fill="#f1f1f1" stroke="#111" stroke-width="1.1"/><circle cx="198.3" cy="79.5" r="3.55" fill="#f1f1f1" stroke="#111" stroke-width="1.1"/><circle cx="203.6" cy="84.9" r="3.55" fill="#f1f1f1" stroke="#111" stroke-width="1.1"/><circle cx="209.0" cy="81.5" r="3.55" fill="#f1f1f1" stroke="#111" stroke-width="1.1"/><circle cx="261.4" cy="36.8" r="3.55" fill="#f1f1f1" stroke="#111" stroke-width="1.1"/><circle cx="266.7" cy="36.8" r="3.55" fill="#f1f1f1" stroke="#111" stroke-width="1.1"/><circle cx="262.5" cy="41.0" r="3.55" fill="#f1f1f1" stroke="#111" stroke-width="1.1"/><circle cx="257.4" cy="27.8" r="3.55" fill="#f1f1f1" stroke="#111" stroke-width="1.1"/><circle cx="268.5" cy="29.7" r="3.55" fill="#f1f1f1" stroke="#111" stroke-width="1.1"/><circle cx="263.2" cy="32.4" r="3.55" fill="#f1f1f1" stroke="#111" stroke-width="1.1"/><circle cx="256.5" cy="41.3" r="3.55" fill="#f1f1f1" stroke="#111" stroke-width="1.1"/><circle cx="268.9" cy="41.3" r="3.55" fill="#f1f1f1" stroke="#111" stroke-width="1.1"/><circle cx="265.8" cy="48.3" r="3.55" fill="#f1f1f1" stroke="#111" stroke-width="1.1"/><circle cx="260.1" cy="46.6" r="3.55" fill="#f1f1f1" stroke="#111" stroke-width="1.1"/><circle cx="257.0" cy="51.0" r="3.55" fill="#f1f1f1" stroke="#111" stroke-width="1.1"/><circle cx="268.5" cy="54.1" r="3.55" fill="#f1f1f1" stroke="#111" stroke-width="1.1"/><circle cx="263.2" cy="55.4" r="3.55" fill="#f1f1f1" stroke="#111" stroke-width="1.1"/><circle cx="326.1" cy="32.1" r="3.55" fill="#f1f1f1" stroke="#111" stroke-width="1.1"/><circle cx="321.9" cy="29.0" r="3.55" fill="#f1f1f1" stroke="#111" stroke-width="1.1"/><circle cx="316.6" cy="34.2" r="3.55" fill="#f1f1f1" stroke="#111" stroke-width="1.1"/><circle cx="328.7" cy="33.7" r="3.55" fill="#f1f1f1" stroke="#111" stroke-width="1.1"/><circle cx="316.1" cy="40.5" r="3.55" fill="#f1f1f1" stroke="#111" stroke-width="1.1"/><circle cx="318.7" cy="40.0" r="3.55" fill="#f1f1f1" stroke="#111" stroke-width="1.1"/><circle cx="324.5" cy="40.0" r="3.55" fill="#f1f1f1" stroke="#111" stroke-width="1.1"/><circle cx="328.7" cy="42.7" r="3.55" fill="#f1f1f1" stroke="#111" stroke-width="1.1"/><circle cx="321.9" cy="46.9" r="3.55" fill="#f1f1f1" stroke="#111" stroke-width="1.1"/><circle cx="321.9" cy="53.7" r="3.55" fill="#f1f1f1" stroke="#111" stroke-width="1.1"/><circle cx="316.6" cy="54.8" r="3.55" fill="#f1f1f1" stroke="#111" stroke-width="1.1"/><circle cx="327.7" cy="54.2" r="3.55" fill="#f1f1f1" stroke="#111" stroke-width="1.1"/><circle cx="322.9" cy="59.0" r="3.55" fill="#f1f1f1" stroke="#111" stroke-width="1.1"/><circle cx="316.1" cy="61.6" r="3.55" fill="#f1f1f1" stroke="#111" stroke-width="1.1"/><circle cx="321.3" cy="64.8" r="3.55" fill="#f1f1f1" stroke="#111" stroke-width="1.1"/><circle cx="327.7" cy="64.3" r="3.55" fill="#f1f1f1" stroke="#111" stroke-width="1.1"/><line x1="75" y1="130.9" x2="95.2" y2="130.9" stroke="#222" stroke-width="1.2" /><line x1="112" y1="148.9" x2="133" y2="148.9" stroke="#222" stroke-width="1.2" /><line x1="134.5" y1="122.6" x2="155" y2="122.6" stroke="#222" stroke-width="1.2" /><line x1="171.7" y1="130.4" x2="192" y2="130.4" stroke="#222" stroke-width="1.2" /><line x1="193.6" y1="65.3" x2="213.8" y2="65.3" stroke="#222" stroke-width="1.2" /><line x1="231" y1="77.5" x2="251" y2="77.5" stroke="#222" stroke-width="1.2" /><line x1="253" y1="40.8" x2="272.5" y2="40.8" stroke="#222" stroke-width="1.2" /><line x1="290.2" y1="61.1" x2="310.5" y2="61.1" stroke="#222" stroke-width="1.2" /><line x1="312.4" y1="45.3" x2="332" y2="45.3" stroke="#222" stroke-width="1.2" /><text x="358.5" y="14" font-size="17" text-anchor="start" font-weight="bold" style="stroke:#000;stroke-width:0.55px">B</text><line x1="405.6" y1="11" x2="405.6" y2="198.5" stroke="#3a3a3a" stroke-width="1.3" /><line x1="401.0" y1="11.2" x2="405.6" y2="11.2" stroke="#3a3a3a" stroke-width="1.1" /><text x="400.0" y="14.299999999999999" font-size="9.9" text-anchor="end" font-weight="normal" >100</text><line x1="401.0" y1="48.650000000000006" x2="405.6" y2="48.650000000000006" stroke="#3a3a3a" stroke-width="1.1" /><text x="400.0" y="51.75000000000001" font-size="9.9" text-anchor="end" font-weight="normal" >10</text><line x1="401.0" y1="86.10000000000001" x2="405.6" y2="86.10000000000001" stroke="#3a3a3a" stroke-width="1.1" /><text x="400.0" y="89.2" font-size="9.9" text-anchor="end" font-weight="normal" >1</text><line x1="401.0" y1="123.55000000000001" x2="405.6" y2="123.55000000000001" stroke="#3a3a3a" stroke-width="1.1" /><text x="400.0" y="126.65" font-size="9.9" text-anchor="end" font-weight="normal" >0,1</text><line x1="401.0" y1="161.0" x2="405.6" y2="161.0" stroke="#3a3a3a" stroke-width="1.1" /><text x="400.0" y="164.1" font-size="9.9" text-anchor="end" font-weight="normal" >0,01</text><line x1="401.0" y1="198.5" x2="405.6" y2="198.5" stroke="#3a3a3a" stroke-width="1.1" /><text x="400.0" y="200.0" font-size="9.9" text-anchor="end" font-weight="normal" >0</text><line x1="405.6" y1="198.5" x2="520" y2="198.5" stroke="#3a3a3a" stroke-width="1.3" /><text transform="translate(369.8,100.7) rotate(-90)" font-size="11" text-anchor="middle">Nb of recovered</text><text transform="translate(382.5,100) rotate(-90)" font-size="11.22" text-anchor="middle">CD4<tspan font-size="7.9" dy="-4.3">+</tspan><tspan dy="4.3"> T cells (x10</tspan><tspan font-size="8.2" dy="-4.3">-6</tspan><tspan dy="4.3">)</tspan></text><path d="M434.4 29V24.5H490.4V29" fill="none" stroke="#333" stroke-width="1.2"/><text x="462.4" y="20.9" font-size="10.5" text-anchor="middle" font-weight="normal" >ns</text><path d="M434.1 52.5L438.6 57.0L434.1 61.5L429.6 57.0Z" fill="#fff" stroke="#111" stroke-width="1.15"/><path d="M441.0 49.2L445.5 53.7L441.0 58.2L436.5 53.7Z" fill="#fff" stroke="#111" stroke-width="1.15"/><path d="M426.5 65.6L431.0 70.1L426.5 74.6L422.0 70.1Z" fill="#fff" stroke="#111" stroke-width="1.15"/><path d="M433.4 67.4L437.9 71.9L433.4 76.4L428.9 71.9Z" fill="#fff" stroke="#111" stroke-width="1.15"/><path d="M438.5 69.4L443.0 73.9L438.5 78.4L434.0 73.9Z" fill="#fff" stroke="#111" stroke-width="1.15"/><path d="M426.5 74.5L431.0 79.0L426.5 83.5L422.0 79.0Z" fill="#fff" stroke="#111" stroke-width="1.15"/><path d="M435.3 73.5L439.8 78.0L435.3 82.5L430.8 78.0Z" fill="#fff" stroke="#111" stroke-width="1.15"/><path d="M441.3 76.0L445.8 80.5L441.3 85.0L436.8 80.5Z" fill="#fff" stroke="#111" stroke-width="1.15"/><path d="M434.0 80.5L438.5 85.0L434.0 89.5L429.5 85.0Z" fill="#fff" stroke="#111" stroke-width="1.15"/><path d="M437.5 85.5L442.0 90.0L437.5 94.5L433.0 90.0Z" fill="#fff" stroke="#111" stroke-width="1.15"/><path d="M430.0 87.5L434.5 92.0L430.0 96.5L425.5 92.0Z" fill="#fff" stroke="#111" stroke-width="1.15"/><path d="M441.3 89.3L445.8 93.8L441.3 98.3L436.8 93.8Z" fill="#fff" stroke="#111" stroke-width="1.15"/><path d="M425.8 91.2L430.3 95.7L425.8 100.2L421.3 95.7Z" fill="#fff" stroke="#111" stroke-width="1.15"/><path d="M434.0 96.5L438.5 101.0L434.0 105.5L429.5 101.0Z" fill="#fff" stroke="#111" stroke-width="1.15"/><path d="M434.0 117.7L438.5 122.2L434.0 126.7L429.5 122.2Z" fill="#fff" stroke="#111" stroke-width="1.15"/><path d="M494.4 58.3L499.0 62.9L494.4 67.5L489.8 62.9Z" fill="#000" stroke="#111" stroke-width="1.15"/><path d="M483.4 65.7L488.0 70.3L483.4 74.9L478.8 70.3Z" fill="#000" stroke="#111" stroke-width="1.15"/><path d="M491.0 66.9L495.6 71.5L491.0 76.1L486.4 71.5Z" fill="#000" stroke="#111" stroke-width="1.15"/><path d="M498.6 65.9L503.2 70.5L498.6 75.1L494.0 70.5Z" fill="#000" stroke="#111" stroke-width="1.15"/><path d="M483.4 81.5L488.0 86.1L483.4 90.7L478.8 86.1Z" fill="#000" stroke="#111" stroke-width="1.15"/><path d="M491.0 84.4L495.6 89.0L491.0 93.6L486.4 89.0Z" fill="#000" stroke="#111" stroke-width="1.15"/><path d="M491.0 98.6L495.6 103.2L491.0 107.8L486.4 103.2Z" fill="#000" stroke="#111" stroke-width="1.15"/><line x1="414.8" y1="74.8" x2="453" y2="74.8" stroke="#333" stroke-width="1.3" /><line x1="472" y1="74.9" x2="510.6" y2="74.9" stroke="#444" stroke-width="1.3" /><text x="410.8" y="213.6" font-size="10.4">B6 CD3<tspan font-family="Liberation Serif">&#949;</tspan><tspan font-size="6.8" dy="-4">-/-</tspan></text><text x="472.8" y="213.6" font-size="10.3">B6 C<tspan font-family="Liberation Serif">&#945;</tspan><tspan font-size="6.8" dy="-4">-/-</tspan></text><text x="358.5" y="259.5" font-size="17" text-anchor="start" font-weight="bold" style="stroke:#000;stroke-width:0.55px">D</text><line x1="405.6" y1="272" x2="405.6" y2="458.2" stroke="#3a3a3a" stroke-width="1.3" /><line x1="401.0" y1="272.2" x2="405.6" y2="272.2" stroke="#3a3a3a" stroke-width="1.1" /><text x="400.0" y="275.3" font-size="9.9" text-anchor="end" font-weight="normal" >100</text><line x1="401.0" y1="309.65" x2="405.6" y2="309.65" stroke="#3a3a3a" stroke-width="1.1" /><text x="400.0" y="312.75" font-size="9.9" text-anchor="end" font-weight="normal" >10</text><line x1="401.0" y1="347.1" x2="405.6" y2="347.1" stroke="#3a3a3a" stroke-width="1.1" /><text x="400.0" y="350.20000000000005" font-size="9.9" text-anchor="end" font-weight="normal" >1</text><line x1="401.0" y1="384.55" x2="405.6" y2="384.55" stroke="#3a3a3a" stroke-width="1.1" /><text x="400.0" y="387.65000000000003" font-size="9.9" text-anchor="end" font-weight="normal" >0,1</text><line x1="401.0" y1="422.0" x2="405.6" y2="422.0" stroke="#3a3a3a" stroke-width="1.1" /><text x="400.0" y="425.1" font-size="9.9" text-anchor="end" font-weight="normal" >0,01</text><line x1="401.0" y1="458.2" x2="405.6" y2="458.2" stroke="#3a3a3a" stroke-width="1.1" /><text x="400.0" y="459.7" font-size="9.9" text-anchor="end" font-weight="normal" >0</text><line x1="405.6" y1="458.2" x2="520" y2="458.2" stroke="#3a3a3a" stroke-width="1.3" /><text transform="translate(371,361.2) rotate(-90)" font-size="11" text-anchor="middle">Nb of recovered</text><text transform="translate(383.0,360.5) rotate(-90)" font-size="11.22" text-anchor="middle">CD4<tspan font-size="7.9" dy="-4.3">+</tspan><tspan dy="4.3"> T cells (x10</tspan><tspan font-size="8.2" dy="-4.3">-6</tspan><tspan dy="4.3">)</tspan></text><path d="M434.4 281.2V276.6H490.6V281.2" fill="none" stroke="#333" stroke-width="1.2"/><path d="M456.70 266.55L456.70 272.25M454.23 267.97L459.17 270.82M459.17 267.97L454.23 270.82" stroke="#222" stroke-width="1.05" stroke-linecap="round"/><path d="M464.10 266.55L464.10 272.25M461.63 267.97L466.57 270.82M466.57 267.97L461.63 270.82" stroke="#222" stroke-width="1.05" stroke-linecap="round"/><path d="M427.8 333.3L432.1 337.6L427.8 341.9L423.5 337.6Z" fill="#fff" stroke="#111" stroke-width="1.15"/><path d="M432.6 336.5L436.9 340.8L432.6 345.1L428.3 340.8Z" fill="#fff" stroke="#111" stroke-width="1.15"/><path d="M432.6 351.7L436.9 356.0L432.6 360.3L428.3 356.0Z" fill="#fff" stroke="#111" stroke-width="1.15"/><path d="M440.7 349.5L445.0 353.8L440.7 358.1L436.4 353.8Z" fill="#fff" stroke="#111" stroke-width="1.15"/><path d="M432.6 388.6L436.9 392.9L432.6 397.2L428.3 392.9Z" fill="#fff" stroke="#111" stroke-width="1.15"/><path d="M432.6 416.0L436.9 420.3L432.6 424.6L428.3 420.3Z" fill="#fff" stroke="#111" stroke-width="1.15"/><circle cx="489.8" cy="295.5" r="3.6" fill="#f0f0f0" stroke="#111" stroke-width="1.1"/><circle cx="483.1" cy="303.7" r="3.6" fill="#f0f0f0" stroke="#111" stroke-width="1.1"/><circle cx="489.8" cy="306.5" r="3.6" fill="#f0f0f0" stroke="#111" stroke-width="1.1"/><circle cx="483.1" cy="312.4" r="3.6" fill="#f0f0f0" stroke="#111" stroke-width="1.1"/><circle cx="489.8" cy="317.5" r="3.6" fill="#f0f0f0" stroke="#111" stroke-width="1.1"/><circle cx="496.2" cy="316.2" r="3.6" fill="#f0f0f0" stroke="#111" stroke-width="1.1"/><line x1="415" y1="351.3" x2="453" y2="351.3" stroke="#222" stroke-width="1.2" /><line x1="470.8" y1="307" x2="508.8" y2="307" stroke="#444" stroke-width="1.3" /><text x="410.8" y="473.6" font-size="10.4">B6 CD3<tspan font-family="Liberation Serif">&#949;</tspan><tspan font-size="6.8" dy="-4">-/-</tspan></text><text x="472.8" y="473.6" font-size="10.3">NOD C<tspan font-family="Liberation Serif">&#945;</tspan><tspan font-size="6.8" dy="-4">-/-</tspan></text></g><g class="h"><text x="2" y="260" font-size="17" text-anchor="start" font-weight="bold" style="stroke:#000;stroke-width:0.55px">C</text><text x="21.6" y="264.4" font-size="9.8" text-anchor="start" font-weight="bold" >C57BL/6</text><text x="21.6" y="372" font-size="9.6" text-anchor="start" font-weight="bold" >NOD</text><line x1="9.9" y1="274" x2="9.9" y2="408.3" stroke="#999" stroke-width="1.5" /><path d="M9.9 270.6L7.6 275.2H12.2Z" fill="#111"/><text transform="translate(12.9,435.2) rotate(-90)" font-size="10.7" text-anchor="middle">Foxp3</text><rect x="21.7" y="267.7" width="75.0" height="83.0" fill="none" stroke="#222" stroke-width="1"/><line x1="43.2" y1="267.7" x2="43.2" y2="350.7" stroke="#222" stroke-width="1" /><line x1="21.7" y1="316.5" x2="96.7" y2="316.5" stroke="#222" stroke-width="1" /><path d="M21.7 350.7v2.6M21.7 350.7h-2.6M27.3 350.7v1.6M21.7 344.5h-1.6M30.6 350.7v1.6M21.7 340.8h-1.6M33.0 350.7v1.6M21.7 338.2h-1.6M34.8 350.7v1.6M21.7 336.2h-1.6M36.3 350.7v1.6M21.7 334.6h-1.6M37.5 350.7v1.6M21.7 333.2h-1.6M38.6 350.7v1.6M21.7 332.0h-1.6M39.6 350.7v1.6M21.7 330.9h-1.6M40.5 350.7v2.6M21.7 329.9h-2.6M46.1 350.7v1.6M21.7 323.7h-1.6M49.4 350.7v1.6M21.7 320.0h-1.6M51.7 350.7v1.6M21.7 317.5h-1.6M53.6 350.7v1.6M21.7 315.4h-1.6M55.0 350.7v1.6M21.7 313.8h-1.6M56.3 350.7v1.6M21.7 312.4h-1.6M57.4 350.7v1.6M21.7 311.2h-1.6M58.3 350.7v1.6M21.7 310.1h-1.6M59.2 350.7v2.6M21.7 309.2h-2.6M64.8 350.7v1.6M21.7 303.0h-1.6M68.1 350.7v1.6M21.7 299.3h-1.6M70.5 350.7v1.6M21.7 296.7h-1.6M72.3 350.7v1.6M21.7 294.7h-1.6M73.8 350.7v1.6M21.7 293.1h-1.6M75.0 350.7v1.6M21.7 291.7h-1.6M76.1 350.7v1.6M21.7 290.5h-1.6M77.1 350.7v1.6M21.7 289.4h-1.6M78.0 350.7v2.6M21.7 288.4h-2.6M83.6 350.7v1.6M21.7 282.2h-1.6M86.9 350.7v1.6M21.7 278.5h-1.6M89.2 350.7v1.6M21.7 276.0h-1.6M91.1 350.7v1.6M21.7 273.9h-1.6M92.5 350.7v1.6M21.7 272.3h-1.6M93.8 350.7v1.6M21.7 270.9h-1.6M94.9 350.7v1.6M21.7 269.7h-1.6M95.8 350.7v1.6M21.7 268.6h-1.6" stroke="#333" stroke-width="0.7"/><text x="24.8" y="275.4" font-size="7.3" text-anchor="start" font-weight="normal" >2.20</text><text x="92.1" y="275.4" font-size="7.3" text-anchor="end" font-weight="normal" >9.67</text><text x="92.1" y="326.8" font-size="7.3" text-anchor="end" font-weight="normal" >0.63</text><text x="60.1" y="362.9" font-size="9.3" text-anchor="middle" font-weight="normal" >CD25</text><rect x="101.8" y="267.7" width="74.9" height="83.0" fill="none" stroke="#222" stroke-width="1"/><line x1="133.7" y1="267.7" x2="133.7" y2="350.7" stroke="#222" stroke-width="1" /><line x1="101.8" y1="316.5" x2="176.7" y2="316.5" stroke="#222" stroke-width="1" /><path d="M101.8 350.7v2.6M101.8 350.7h-2.6M107.4 350.7v1.6M101.8 344.5h-1.6M110.7 350.7v1.6M101.8 340.8h-1.6M113.1 350.7v1.6M101.8 338.2h-1.6M114.9 350.7v1.6M101.8 336.2h-1.6M116.4 350.7v1.6M101.8 334.6h-1.6M117.6 350.7v1.6M101.8 333.2h-1.6M118.7 350.7v1.6M101.8 332.0h-1.6M119.7 350.7v1.6M101.8 330.9h-1.6M120.5 350.7v2.6M101.8 329.9h-2.6M126.2 350.7v1.6M101.8 323.7h-1.6M129.5 350.7v1.6M101.8 320.0h-1.6M131.8 350.7v1.6M101.8 317.5h-1.6M133.6 350.7v1.6M101.8 315.4h-1.6M135.1 350.7v1.6M101.8 313.8h-1.6M136.3 350.7v1.6M101.8 312.4h-1.6M137.4 350.7v1.6M101.8 311.2h-1.6M138.4 350.7v1.6M101.8 310.1h-1.6M139.2 350.7v2.6M101.8 309.2h-2.6M144.9 350.7v1.6M101.8 303.0h-1.6M148.2 350.7v1.6M101.8 299.3h-1.6M150.5 350.7v1.6M101.8 296.7h-1.6M152.3 350.7v1.6M101.8 294.7h-1.6M153.8 350.7v1.6M101.8 293.1h-1.6M155.1 350.7v1.6M101.8 291.7h-1.6M156.2 350.7v1.6M101.8 290.5h-1.6M157.1 350.7v1.6M101.8 289.4h-1.6M158.0 350.7v2.6M101.8 288.4h-2.6M163.6 350.7v1.6M101.8 282.2h-1.6M166.9 350.7v1.6M101.8 278.5h-1.6M169.2 350.7v1.6M101.8 276.0h-1.6M171.1 350.7v1.6M101.8 273.9h-1.6M172.5 350.7v1.6M101.8 272.3h-1.6M173.8 350.7v1.6M101.8 270.9h-1.6M174.9 350.7v1.6M101.8 269.7h-1.6M175.8 350.7v1.6M101.8 268.6h-1.6" stroke="#333" stroke-width="0.7"/><text x="106.4" y="275.4" font-size="7.3" text-anchor="start" font-weight="normal" >9.62</text><text x="172.20000000000002" y="275.4" font-size="7.3" text-anchor="end" font-weight="normal" >1.83</text><text x="172.20000000000002" y="326.8" font-size="7.3" text-anchor="end" font-weight="normal" >2.28</text><text x="139.1" y="362.9" font-size="9.3" text-anchor="middle" font-weight="normal" >CD44</text><rect x="182.6" y="267.7" width="74.7" height="83.0" fill="none" stroke="#222" stroke-width="1"/><line x1="207.1" y1="267.7" x2="207.1" y2="350.7" stroke="#222" stroke-width="1" /><line x1="182.6" y1="316.5" x2="257.3" y2="316.5" stroke="#222" stroke-width="1" /><path d="M182.6 350.7v2.6M182.6 350.7h-2.6M188.2 350.7v1.6M182.6 344.5h-1.6M191.5 350.7v1.6M182.6 340.8h-1.6M193.8 350.7v1.6M182.6 338.2h-1.6M195.7 350.7v1.6M182.6 336.2h-1.6M197.1 350.7v1.6M182.6 334.6h-1.6M198.4 350.7v1.6M182.6 333.2h-1.6M199.5 350.7v1.6M182.6 332.0h-1.6M200.4 350.7v1.6M182.6 330.9h-1.6M201.3 350.7v2.6M182.6 329.9h-2.6M206.9 350.7v1.6M182.6 323.7h-1.6M210.2 350.7v1.6M182.6 320.0h-1.6M212.5 350.7v1.6M182.6 317.5h-1.6M214.3 350.7v1.6M182.6 315.4h-1.6M215.8 350.7v1.6M182.6 313.8h-1.6M217.1 350.7v1.6M182.6 312.4h-1.6M218.1 350.7v1.6M182.6 311.2h-1.6M219.1 350.7v1.6M182.6 310.1h-1.6M219.9 350.7v2.6M182.6 309.2h-2.6M225.6 350.7v1.6M182.6 303.0h-1.6M228.9 350.7v1.6M182.6 299.3h-1.6M231.2 350.7v1.6M182.6 296.7h-1.6M233.0 350.7v1.6M182.6 294.7h-1.6M234.5 350.7v1.6M182.6 293.1h-1.6M235.7 350.7v1.6M182.6 291.7h-1.6M236.8 350.7v1.6M182.6 290.5h-1.6M237.8 350.7v1.6M182.6 289.4h-1.6M238.6 350.7v2.6M182.6 288.4h-2.6M244.2 350.7v1.6M182.6 282.2h-1.6M247.5 350.7v1.6M182.6 278.5h-1.6M249.9 350.7v1.6M182.6 276.0h-1.6M251.7 350.7v1.6M182.6 273.9h-1.6M253.2 350.7v1.6M182.6 272.3h-1.6M254.4 350.7v1.6M182.6 270.9h-1.6M255.5 350.7v1.6M182.6 269.7h-1.6M256.4 350.7v1.6M182.6 268.6h-1.6" stroke="#333" stroke-width="0.7"/><text x="185.5" y="275.4" font-size="7.3" text-anchor="start" font-weight="normal" >7.11</text><text x="254.4" y="275.4" font-size="7.3" text-anchor="end" font-weight="normal" >3.46</text><text x="254.4" y="326.8" font-size="7.3" text-anchor="end" font-weight="normal" >82.79</text><text x="219.6" y="362.9" font-size="9.3" text-anchor="middle" font-weight="normal" >CD45RB</text><rect x="263.5" y="267.7" width="74.7" height="83.0" fill="none" stroke="#222" stroke-width="1"/><line x1="280.3" y1="267.7" x2="280.3" y2="350.7" stroke="#222" stroke-width="1" /><line x1="263.5" y1="316.5" x2="338.2" y2="316.5" stroke="#222" stroke-width="1" /><path d="M263.5 350.7v2.6M263.5 350.7h-2.6M269.1 350.7v1.6M263.5 344.5h-1.6M272.4 350.7v1.6M263.5 340.8h-1.6M274.7 350.7v1.6M263.5 338.2h-1.6M276.6 350.7v1.6M263.5 336.2h-1.6M278.0 350.7v1.6M263.5 334.6h-1.6M279.3 350.7v1.6M263.5 333.2h-1.6M280.4 350.7v1.6M263.5 332.0h-1.6M281.3 350.7v1.6M263.5 330.9h-1.6M282.2 350.7v2.6M263.5 329.9h-2.6M287.8 350.7v1.6M263.5 323.7h-1.6M291.1 350.7v1.6M263.5 320.0h-1.6M293.4 350.7v1.6M263.5 317.5h-1.6M295.2 350.7v1.6M263.5 315.4h-1.6M296.7 350.7v1.6M263.5 313.8h-1.6M298.0 350.7v1.6M263.5 312.4h-1.6M299.0 350.7v1.6M263.5 311.2h-1.6M300.0 350.7v1.6M263.5 310.1h-1.6M300.9 350.7v2.6M263.5 309.2h-2.6M306.5 350.7v1.6M263.5 303.0h-1.6M309.8 350.7v1.6M263.5 299.3h-1.6M312.1 350.7v1.6M263.5 296.7h-1.6M313.9 350.7v1.6M263.5 294.7h-1.6M315.4 350.7v1.6M263.5 293.1h-1.6M316.6 350.7v1.6M263.5 291.7h-1.6M317.7 350.7v1.6M263.5 290.5h-1.6M318.7 350.7v1.6M263.5 289.4h-1.6M319.5 350.7v2.6M263.5 288.4h-2.6M325.1 350.7v1.6M263.5 282.2h-1.6M328.4 350.7v1.6M263.5 278.5h-1.6M330.8 350.7v1.6M263.5 276.0h-1.6M332.6 350.7v1.6M263.5 273.9h-1.6M334.1 350.7v1.6M263.5 272.3h-1.6M335.3 350.7v1.6M263.5 270.9h-1.6M336.4 350.7v1.6M263.5 269.7h-1.6M337.3 350.7v1.6M263.5 268.6h-1.6" stroke="#333" stroke-width="0.7"/><text x="265.0" y="275.4" font-size="7.3" text-anchor="start" font-weight="normal" >7.98</text><text x="333.8" y="275.4" font-size="7.3" text-anchor="end" font-weight="normal" >4.04</text><text x="333.8" y="326.8" font-size="7.3" text-anchor="end" font-weight="normal" >6.25</text><text x="300.2" y="362.9" font-size="9.3" text-anchor="middle" font-weight="normal" >CD69</text><rect x="21.7" y="374.8" width="75.0" height="83.3" fill="none" stroke="#222" stroke-width="1"/><line x1="43.2" y1="374.8" x2="43.2" y2="458.1" stroke="#222" stroke-width="1" /><line x1="21.7" y1="424.0" x2="96.7" y2="424.0" stroke="#222" stroke-width="1" /><path d="M21.7 458.1v2.6M21.7 458.1h-2.6M27.3 458.1v1.6M21.7 451.8h-1.6M30.6 458.1v1.6M21.7 448.2h-1.6M33.0 458.1v1.6M21.7 445.6h-1.6M34.8 458.1v1.6M21.7 443.5h-1.6M36.3 458.1v1.6M21.7 441.9h-1.6M37.5 458.1v1.6M21.7 440.5h-1.6M38.6 458.1v1.6M21.7 439.3h-1.6M39.6 458.1v1.6M21.7 438.2h-1.6M40.5 458.1v2.6M21.7 437.3h-2.6M46.1 458.1v1.6M21.7 431.0h-1.6M49.4 458.1v1.6M21.7 427.3h-1.6M51.7 458.1v1.6M21.7 424.7h-1.6M53.6 458.1v1.6M21.7 422.7h-1.6M55.0 458.1v1.6M21.7 421.1h-1.6M56.3 458.1v1.6M21.7 419.7h-1.6M57.4 458.1v1.6M21.7 418.5h-1.6M58.3 458.1v1.6M21.7 417.4h-1.6M59.2 458.1v2.6M21.7 416.5h-2.6M64.8 458.1v1.6M21.7 410.2h-1.6M68.1 458.1v1.6M21.7 406.5h-1.6M70.5 458.1v1.6M21.7 403.9h-1.6M72.3 458.1v1.6M21.7 401.9h-1.6M73.8 458.1v1.6M21.7 400.2h-1.6M75.0 458.1v1.6M21.7 398.9h-1.6M76.1 458.1v1.6M21.7 397.6h-1.6M77.1 458.1v1.6M21.7 396.6h-1.6M78.0 458.1v2.6M21.7 395.6h-2.6M83.6 458.1v1.6M21.7 389.4h-1.6M86.9 458.1v1.6M21.7 385.7h-1.6M89.2 458.1v1.6M21.7 383.1h-1.6M91.1 458.1v1.6M21.7 381.1h-1.6M92.5 458.1v1.6M21.7 379.4h-1.6M93.8 458.1v1.6M21.7 378.0h-1.6M94.9 458.1v1.6M21.7 376.8h-1.6M95.8 458.1v1.6M21.7 375.8h-1.6" stroke="#333" stroke-width="0.7"/><text x="24.8" y="382.5" font-size="7.3" text-anchor="start" font-weight="normal" >2.87</text><text x="92.1" y="382.5" font-size="7.3" text-anchor="end" font-weight="normal" >7.18</text><text x="92.1" y="434.3" font-size="7.3" text-anchor="end" font-weight="normal" >0.61</text><text x="60.1" y="470.3" font-size="9.3" text-anchor="middle" font-weight="normal" >CD25</text><rect x="101.8" y="374.8" width="74.9" height="83.3" fill="none" stroke="#222" stroke-width="1"/><line x1="133.7" y1="374.8" x2="133.7" y2="458.1" stroke="#222" stroke-width="1" /><line x1="101.8" y1="424.0" x2="176.7" y2="424.0" stroke="#222" stroke-width="1" /><path d="M101.8 458.1v2.6M101.8 458.1h-2.6M107.4 458.1v1.6M101.8 451.8h-1.6M110.7 458.1v1.6M101.8 448.2h-1.6M113.1 458.1v1.6M101.8 445.6h-1.6M114.9 458.1v1.6M101.8 443.5h-1.6M116.4 458.1v1.6M101.8 441.9h-1.6M117.6 458.1v1.6M101.8 440.5h-1.6M118.7 458.1v1.6M101.8 439.3h-1.6M119.7 458.1v1.6M101.8 438.2h-1.6M120.5 458.1v2.6M101.8 437.3h-2.6M126.2 458.1v1.6M101.8 431.0h-1.6M129.5 458.1v1.6M101.8 427.3h-1.6M131.8 458.1v1.6M101.8 424.7h-1.6M133.6 458.1v1.6M101.8 422.7h-1.6M135.1 458.1v1.6M101.8 421.1h-1.6M136.3 458.1v1.6M101.8 419.7h-1.6M137.4 458.1v1.6M101.8 418.5h-1.6M138.4 458.1v1.6M101.8 417.4h-1.6M139.2 458.1v2.6M101.8 416.5h-2.6M144.9 458.1v1.6M101.8 410.2h-1.6M148.2 458.1v1.6M101.8 406.5h-1.6M150.5 458.1v1.6M101.8 403.9h-1.6M152.3 458.1v1.6M101.8 401.9h-1.6M153.8 458.1v1.6M101.8 400.2h-1.6M155.1 458.1v1.6M101.8 398.9h-1.6M156.2 458.1v1.6M101.8 397.6h-1.6M157.1 458.1v1.6M101.8 396.6h-1.6M158.0 458.1v2.6M101.8 395.6h-2.6M163.6 458.1v1.6M101.8 389.4h-1.6M166.9 458.1v1.6M101.8 385.7h-1.6M169.2 458.1v1.6M101.8 383.1h-1.6M171.1 458.1v1.6M101.8 381.1h-1.6M172.5 458.1v1.6M101.8 379.4h-1.6M173.8 458.1v1.6M101.8 378.0h-1.6M174.9 458.1v1.6M101.8 376.8h-1.6M175.8 458.1v1.6M101.8 375.8h-1.6" stroke="#333" stroke-width="0.7"/><text x="106.4" y="382.5" font-size="7.3" text-anchor="start" font-weight="normal" >7.25</text><text x="172.20000000000002" y="382.5" font-size="7.3" text-anchor="end" font-weight="normal" >2.98</text><text x="172.20000000000002" y="434.3" font-size="7.3" text-anchor="end" font-weight="normal" >2.42</text><text x="139.1" y="470.3" font-size="9.3" text-anchor="middle" font-weight="normal" >CD44</text><rect x="182.6" y="374.8" width="74.7" height="83.3" fill="none" stroke="#222" stroke-width="1"/><line x1="207.1" y1="374.8" x2="207.1" y2="458.1" stroke="#222" stroke-width="1" /><line x1="182.6" y1="424.0" x2="257.3" y2="424.0" stroke="#222" stroke-width="1" /><path d="M182.6 458.1v2.6M182.6 458.1h-2.6M188.2 458.1v1.6M182.6 451.8h-1.6M191.5 458.1v1.6M182.6 448.2h-1.6M193.8 458.1v1.6M182.6 445.6h-1.6M195.7 458.1v1.6M182.6 443.5h-1.6M197.1 458.1v1.6M182.6 441.9h-1.6M198.4 458.1v1.6M182.6 440.5h-1.6M199.5 458.1v1.6M182.6 439.3h-1.6M200.4 458.1v1.6M182.6 438.2h-1.6M201.3 458.1v2.6M182.6 437.3h-2.6M206.9 458.1v1.6M182.6 431.0h-1.6M210.2 458.1v1.6M182.6 427.3h-1.6M212.5 458.1v1.6M182.6 424.7h-1.6M214.3 458.1v1.6M182.6 422.7h-1.6M215.8 458.1v1.6M182.6 421.1h-1.6M217.1 458.1v1.6M182.6 419.7h-1.6M218.1 458.1v1.6M182.6 418.5h-1.6M219.1 458.1v1.6M182.6 417.4h-1.6M219.9 458.1v2.6M182.6 416.5h-2.6M225.6 458.1v1.6M182.6 410.2h-1.6M228.9 458.1v1.6M182.6 406.5h-1.6M231.2 458.1v1.6M182.6 403.9h-1.6M233.0 458.1v1.6M182.6 401.9h-1.6M234.5 458.1v1.6M182.6 400.2h-1.6M235.7 458.1v1.6M182.6 398.9h-1.6M236.8 458.1v1.6M182.6 397.6h-1.6M237.8 458.1v1.6M182.6 396.6h-1.6M238.6 458.1v2.6M182.6 395.6h-2.6M244.2 458.1v1.6M182.6 389.4h-1.6M247.5 458.1v1.6M182.6 385.7h-1.6M249.9 458.1v1.6M182.6 383.1h-1.6M251.7 458.1v1.6M182.6 381.1h-1.6M253.2 458.1v1.6M182.6 379.4h-1.6M254.4 458.1v1.6M182.6 378.0h-1.6M255.5 458.1v1.6M182.6 376.8h-1.6M256.4 458.1v1.6M182.6 375.8h-1.6" stroke="#333" stroke-width="0.7"/><text x="185.5" y="382.5" font-size="7.3" text-anchor="start" font-weight="normal" >6.97</text><text x="254.4" y="382.5" font-size="7.3" text-anchor="end" font-weight="normal" >3.75</text><text x="254.4" y="434.3" font-size="7.3" text-anchor="end" font-weight="normal" >84.10</text><text x="219.6" y="470.3" font-size="9.3" text-anchor="middle" font-weight="normal" >CD45RB</text><rect x="263.5" y="374.8" width="74.7" height="83.3" fill="none" stroke="#222" stroke-width="1"/><line x1="280.3" y1="374.8" x2="280.3" y2="458.1" stroke="#222" stroke-width="1" /><line x1="263.5" y1="424.0" x2="338.2" y2="424.0" stroke="#222" stroke-width="1" /><path d="M263.5 458.1v2.6M263.5 458.1h-2.6M269.1 458.1v1.6M263.5 451.8h-1.6M272.4 458.1v1.6M263.5 448.2h-1.6M274.7 458.1v1.6M263.5 445.6h-1.6M276.6 458.1v1.6M263.5 443.5h-1.6M278.0 458.1v1.6M263.5 441.9h-1.6M279.3 458.1v1.6M263.5 440.5h-1.6M280.4 458.1v1.6M263.5 439.3h-1.6M281.3 458.1v1.6M263.5 438.2h-1.6M282.2 458.1v2.6M263.5 437.3h-2.6M287.8 458.1v1.6M263.5 431.0h-1.6M291.1 458.1v1.6M263.5 427.3h-1.6M293.4 458.1v1.6M263.5 424.7h-1.6M295.2 458.1v1.6M263.5 422.7h-1.6M296.7 458.1v1.6M263.5 421.1h-1.6M298.0 458.1v1.6M263.5 419.7h-1.6M299.0 458.1v1.6M263.5 418.5h-1.6M300.0 458.1v1.6M263.5 417.4h-1.6M300.9 458.1v2.6M263.5 416.5h-2.6M306.5 458.1v1.6M263.5 410.2h-1.6M309.8 458.1v1.6M263.5 406.5h-1.6M312.1 458.1v1.6M263.5 403.9h-1.6M313.9 458.1v1.6M263.5 401.9h-1.6M315.4 458.1v1.6M263.5 400.2h-1.6M316.6 458.1v1.6M263.5 398.9h-1.6M317.7 458.1v1.6M263.5 397.6h-1.6M318.7 458.1v1.6M263.5 396.6h-1.6M319.5 458.1v2.6M263.5 395.6h-2.6M325.1 458.1v1.6M263.5 389.4h-1.6M328.4 458.1v1.6M263.5 385.7h-1.6M330.8 458.1v1.6M263.5 383.1h-1.6M332.6 458.1v1.6M263.5 381.1h-1.6M334.1 458.1v1.6M263.5 379.4h-1.6M335.3 458.1v1.6M263.5 378.0h-1.6M336.4 458.1v1.6M263.5 376.8h-1.6M337.3 458.1v1.6M263.5 375.8h-1.6" stroke="#333" stroke-width="0.7"/><text x="265.0" y="382.5" font-size="7.3" text-anchor="start" font-weight="normal" >6.32</text><text x="333.8" y="382.5" font-size="7.3" text-anchor="end" font-weight="normal" >3.92</text><text x="333.8" y="434.3" font-size="7.3" text-anchor="end" font-weight="normal" >9.03</text><text x="300.2" y="470.3" font-size="9.3" text-anchor="middle" font-weight="normal" >CD69</text></g>
</svg></div>
</body></html>
